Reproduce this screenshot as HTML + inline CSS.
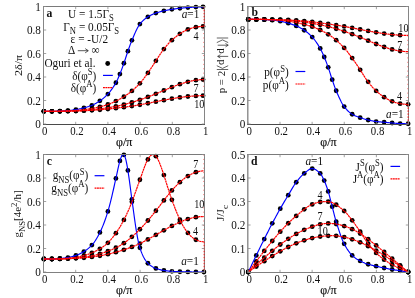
<!DOCTYPE html>
<html><head><meta charset="utf-8"><title>figure</title>
<style>
html,body{margin:0;padding:0;background:#fff;}
body{width:415px;height:298px;overflow:hidden;}
svg{display:block;font-family:"Liberation Serif",serif;will-change:transform;}
text{fill:#111;}
</style></head><body>
<svg width="415" height="298" viewBox="0 0 415 298">
<rect width="415" height="298" fill="#fff"/>
<g fill="#000">
<circle cx="43.90" cy="111.31" r="2.4"/>
<circle cx="51.90" cy="111.31" r="2.4"/>
<circle cx="59.90" cy="111.08" r="2.4"/>
<circle cx="67.90" cy="110.61" r="2.4"/>
<circle cx="75.90" cy="109.61" r="2.4"/>
<circle cx="83.90" cy="107.90" r="2.4"/>
<circle cx="91.90" cy="105.32" r="2.4"/>
<circle cx="99.90" cy="100.85" r="2.4"/>
<circle cx="107.90" cy="94.04" r="2.4"/>
<circle cx="115.90" cy="82.76" r="2.4"/>
<circle cx="119.90" cy="74.06" r="2.4"/>
<circle cx="123.90" cy="63.25" r="2.4"/>
<circle cx="127.90" cy="51.15" r="2.4"/>
<circle cx="131.90" cy="40.34" r="2.4"/>
<circle cx="139.90" cy="24.12" r="2.4"/>
<circle cx="147.90" cy="16.84" r="2.4"/>
<circle cx="155.90" cy="13.08" r="2.4"/>
<circle cx="163.90" cy="10.85" r="2.4"/>
<circle cx="171.90" cy="9.32" r="2.4"/>
<circle cx="179.90" cy="8.26" r="2.4"/>
<circle cx="187.90" cy="7.56" r="2.4"/>
<circle cx="195.90" cy="7.09" r="2.4"/>
<circle cx="203.02" cy="6.85" r="2.4"/>
<circle cx="43.90" cy="111.31" r="2.4"/>
<circle cx="51.90" cy="111.31" r="2.4"/>
<circle cx="59.90" cy="111.20" r="2.4"/>
<circle cx="67.90" cy="110.93" r="2.4"/>
<circle cx="75.90" cy="110.48" r="2.4"/>
<circle cx="83.90" cy="109.65" r="2.4"/>
<circle cx="91.90" cy="108.43" r="2.4"/>
<circle cx="99.90" cy="106.79" r="2.4"/>
<circle cx="107.90" cy="104.48" r="2.4"/>
<circle cx="115.90" cy="101.09" r="2.4"/>
<circle cx="123.90" cy="96.74" r="2.4"/>
<circle cx="131.90" cy="90.97" r="2.4"/>
<circle cx="139.90" cy="83.28" r="2.4"/>
<circle cx="147.90" cy="72.93" r="2.4"/>
<circle cx="155.90" cy="60.82" r="2.4"/>
<circle cx="163.90" cy="49.09" r="2.4"/>
<circle cx="171.90" cy="40.18" r="2.4"/>
<circle cx="179.90" cy="33.81" r="2.4"/>
<circle cx="187.90" cy="29.47" r="2.4"/>
<circle cx="195.90" cy="27.13" r="2.4"/>
<circle cx="203.02" cy="26.41" r="2.4"/>
<circle cx="43.90" cy="111.31" r="2.4"/>
<circle cx="51.90" cy="111.31" r="2.4"/>
<circle cx="59.90" cy="111.28" r="2.4"/>
<circle cx="67.90" cy="111.08" r="2.4"/>
<circle cx="75.90" cy="110.82" r="2.4"/>
<circle cx="83.90" cy="110.41" r="2.4"/>
<circle cx="91.90" cy="109.75" r="2.4"/>
<circle cx="99.90" cy="108.87" r="2.4"/>
<circle cx="107.90" cy="107.73" r="2.4"/>
<circle cx="115.90" cy="106.36" r="2.4"/>
<circle cx="123.90" cy="104.62" r="2.4"/>
<circle cx="131.90" cy="102.35" r="2.4"/>
<circle cx="139.90" cy="99.79" r="2.4"/>
<circle cx="147.90" cy="96.94" r="2.4"/>
<circle cx="155.90" cy="93.83" r="2.4"/>
<circle cx="163.90" cy="90.50" r="2.4"/>
<circle cx="171.90" cy="87.18" r="2.4"/>
<circle cx="179.90" cy="84.20" r="2.4"/>
<circle cx="187.90" cy="81.81" r="2.4"/>
<circle cx="195.90" cy="80.16" r="2.4"/>
<circle cx="203.02" cy="79.58" r="2.4"/>
<circle cx="43.90" cy="111.31" r="2.4"/>
<circle cx="51.90" cy="111.31" r="2.4"/>
<circle cx="59.90" cy="111.30" r="2.4"/>
<circle cx="67.90" cy="111.17" r="2.4"/>
<circle cx="75.90" cy="110.98" r="2.4"/>
<circle cx="83.90" cy="110.71" r="2.4"/>
<circle cx="91.90" cy="110.32" r="2.4"/>
<circle cx="99.90" cy="109.75" r="2.4"/>
<circle cx="107.90" cy="109.04" r="2.4"/>
<circle cx="115.90" cy="108.16" r="2.4"/>
<circle cx="123.90" cy="107.18" r="2.4"/>
<circle cx="131.90" cy="106.05" r="2.4"/>
<circle cx="139.90" cy="104.76" r="2.4"/>
<circle cx="147.90" cy="103.24" r="2.4"/>
<circle cx="155.90" cy="101.66" r="2.4"/>
<circle cx="163.90" cy="100.13" r="2.4"/>
<circle cx="171.90" cy="98.71" r="2.4"/>
<circle cx="179.90" cy="97.47" r="2.4"/>
<circle cx="187.90" cy="96.50" r="2.4"/>
<circle cx="195.90" cy="95.88" r="2.4"/>
<circle cx="203.02" cy="95.67" r="2.4"/>
</g>
<polyline points="43.90,111.31 44.63,111.31 45.36,111.31 46.09,111.31 46.82,111.31 47.55,111.31 48.28,111.31 49.01,111.31 49.74,111.31 50.48,111.31 51.21,111.31 51.94,111.31 52.67,111.31 53.40,111.30 54.13,111.28 54.86,111.26 55.59,111.24 56.32,111.22 57.05,111.19 57.78,111.16 58.51,111.13 59.24,111.10 59.97,111.07 60.70,111.04 61.43,111.01 62.16,110.97 62.90,110.94 63.63,110.90 64.36,110.85 65.09,110.81 65.82,110.76 66.55,110.71 67.28,110.65 68.01,110.60 68.74,110.53 69.47,110.46 70.20,110.39 70.93,110.30 71.66,110.21 72.39,110.12 73.12,110.02 73.85,109.92 74.58,109.81 75.32,109.70 76.05,109.58 76.78,109.46 77.51,109.33 78.24,109.19 78.97,109.05 79.70,108.90 80.43,108.74 81.16,108.57 81.89,108.40 82.62,108.22 83.35,108.04 84.08,107.86 84.81,107.66 85.54,107.46 86.27,107.26 87.01,107.04 87.74,106.81 88.47,106.58 89.20,106.33 89.93,106.08 90.66,105.81 91.39,105.52 92.12,105.23 92.85,104.91 93.58,104.57 94.31,104.21 95.04,103.82 95.77,103.42 96.50,103.00 97.23,102.57 97.96,102.12 98.69,101.65 99.43,101.17 100.16,100.68 100.89,100.17 101.62,99.64 102.35,99.09 103.08,98.51 103.81,97.91 104.54,97.28 105.27,96.63 106.00,95.95 106.73,95.24 107.46,94.50 108.19,93.72 108.92,92.90 109.65,92.04 110.38,91.13 111.11,90.17 111.85,89.16 112.58,88.11 113.31,87.02 114.04,85.88 114.77,84.69 115.50,83.45 116.23,82.17 116.96,80.74 117.69,79.20 118.42,77.56 119.15,75.85 119.88,74.11 120.61,72.29 121.34,70.39 122.07,68.40 122.80,66.37 123.53,64.29 124.27,62.19 125.00,60.00 125.73,57.74 126.46,55.47 127.19,53.24 127.92,51.10 128.65,49.01 129.38,46.94 130.11,44.92 130.84,42.97 131.57,41.13 132.30,39.39 133.03,37.67 133.76,35.95 134.49,34.26 135.22,32.61 135.95,31.02 136.69,29.50 137.42,28.08 138.15,26.76 138.88,25.56 139.61,24.51 140.34,23.58 141.07,22.72 141.80,21.91 142.53,21.15 143.26,20.44 143.99,19.76 144.72,19.14 145.45,18.55 146.18,18.00 146.91,17.48 147.64,17.00 148.37,16.55 149.11,16.12 149.84,15.72 150.57,15.34 151.30,14.98 152.03,14.63 152.76,14.31 153.49,14.00 154.22,13.70 154.95,13.42 155.68,13.16 156.41,12.90 157.14,12.66 157.87,12.43 158.60,12.21 159.33,12.00 160.06,11.80 160.79,11.60 161.53,11.41 162.26,11.23 162.99,11.06 163.72,10.89 164.45,10.72 165.18,10.57 165.91,10.41 166.64,10.26 167.37,10.12 168.10,9.98 168.83,9.84 169.56,9.71 170.29,9.58 171.02,9.46 171.75,9.34 172.48,9.23 173.22,9.12 173.95,9.01 174.68,8.91 175.41,8.81 176.14,8.71 176.87,8.62 177.60,8.52 178.33,8.44 179.06,8.35 179.79,8.27 180.52,8.20 181.25,8.12 181.98,8.05 182.71,7.98 183.44,7.92 184.17,7.85 184.90,7.79 185.64,7.73 186.37,7.67 187.10,7.62 187.83,7.56 188.56,7.51 189.29,7.46 190.02,7.41 190.75,7.36 191.48,7.32 192.21,7.27 192.94,7.23 193.67,7.19 194.40,7.15 195.13,7.12 195.86,7.09 196.59,7.06 197.32,7.03 198.06,7.01 198.79,6.98 199.52,6.96 200.25,6.94 200.98,6.91 201.71,6.90 202.44,6.88 203.17,6.86 203.90,6.85" fill="none" stroke="#0000ff" stroke-width="1.15" stroke-linejoin="round"/>
<polyline points="43.90,111.31 44.63,111.31 45.36,111.31 46.09,111.31 46.82,111.31 47.55,111.31 48.28,111.31 49.01,111.31 49.74,111.31 50.48,111.31 51.21,111.31 51.94,111.31 52.67,111.31 53.40,111.31 54.13,111.31 54.86,111.31 55.59,111.30 56.32,111.29 57.05,111.28 57.78,111.26 58.51,111.24 59.24,111.22 59.97,111.20 60.70,111.18 61.43,111.16 62.16,111.13 62.90,111.11 63.63,111.09 64.36,111.06 65.09,111.04 65.82,111.01 66.55,110.98 67.28,110.96 68.01,110.92 68.74,110.89 69.47,110.86 70.20,110.82 70.93,110.79 71.66,110.75 72.39,110.71 73.12,110.66 73.85,110.62 74.58,110.57 75.32,110.52 76.05,110.46 76.78,110.40 77.51,110.34 78.24,110.27 78.97,110.20 79.70,110.13 80.43,110.05 81.16,109.97 81.89,109.89 82.62,109.81 83.35,109.72 84.08,109.63 84.81,109.54 85.54,109.45 86.27,109.35 87.01,109.24 87.74,109.13 88.47,109.02 89.20,108.90 89.93,108.78 90.66,108.65 91.39,108.52 92.12,108.39 92.85,108.26 93.58,108.12 94.31,107.98 95.04,107.84 95.77,107.69 96.50,107.54 97.23,107.39 97.96,107.23 98.69,107.07 99.43,106.90 100.16,106.72 100.89,106.55 101.62,106.36 102.35,106.17 103.08,105.98 103.81,105.77 104.54,105.56 105.27,105.35 106.00,105.12 106.73,104.88 107.46,104.63 108.19,104.37 108.92,104.10 109.65,103.82 110.38,103.53 111.11,103.23 111.85,102.92 112.58,102.61 113.31,102.28 114.04,101.96 114.77,101.62 115.50,101.28 116.23,100.93 116.96,100.58 117.69,100.22 118.42,99.85 119.15,99.47 119.88,99.08 120.61,98.68 121.34,98.27 122.07,97.84 122.80,97.41 123.53,96.97 124.27,96.52 125.00,96.05 125.73,95.57 126.46,95.08 127.19,94.58 127.92,94.07 128.65,93.54 129.38,92.99 130.11,92.43 130.84,91.84 131.57,91.24 132.30,90.62 133.03,89.99 133.76,89.34 134.49,88.67 135.22,87.99 135.95,87.29 136.69,86.58 137.42,85.85 138.15,85.11 138.88,84.35 139.61,83.59 140.34,82.81 141.07,82.00 141.80,81.14 142.53,80.24 143.26,79.30 143.99,78.34 144.72,77.35 145.45,76.35 146.18,75.33 146.91,74.32 147.64,73.30 148.37,72.25 149.11,71.18 149.84,70.09 150.57,68.98 151.30,67.87 152.03,66.76 152.76,65.64 153.49,64.52 154.22,63.41 154.95,62.30 155.68,61.17 156.41,60.02 157.14,58.87 157.87,57.73 158.60,56.59 159.33,55.47 160.06,54.37 160.79,53.30 161.53,52.26 162.26,51.26 162.99,50.29 163.72,49.33 164.45,48.39 165.18,47.46 165.91,46.56 166.64,45.68 167.37,44.82 168.10,44.00 168.83,43.20 169.56,42.43 170.29,41.69 171.02,40.98 171.75,40.31 172.48,39.66 173.22,39.02 173.95,38.39 174.68,37.77 175.41,37.17 176.14,36.58 176.87,36.01 177.60,35.45 178.33,34.92 179.06,34.39 179.79,33.89 180.52,33.40 181.25,32.93 181.98,32.48 182.71,32.05 183.44,31.63 184.17,31.23 184.90,30.85 185.64,30.49 186.37,30.14 187.10,29.81 187.83,29.50 188.56,29.21 189.29,28.93 190.02,28.67 190.75,28.43 191.48,28.20 192.21,27.98 192.94,27.78 193.67,27.60 194.40,27.43 195.13,27.27 195.86,27.13 196.59,27.00 197.32,26.89 198.06,26.79 198.79,26.70 199.52,26.62 200.25,26.55 200.98,26.50 201.71,26.46 202.44,26.43 203.17,26.41 203.90,26.41" fill="none" stroke="#ff0000" stroke-width="1.2" stroke-dasharray="2.3 0.45"/>
<polyline points="43.90,111.31 44.63,111.31 45.36,111.31 46.09,111.31 46.82,111.31 47.55,111.31 48.28,111.31 49.01,111.31 49.74,111.31 50.48,111.31 51.21,111.31 51.94,111.31 52.67,111.31 53.40,111.31 54.13,111.31 54.86,111.31 55.59,111.31 56.32,111.31 57.05,111.31 57.78,111.30 58.51,111.29 59.24,111.29 59.97,111.27 60.70,111.26 61.43,111.25 62.16,111.23 62.90,111.21 63.63,111.20 64.36,111.18 65.09,111.16 65.82,111.14 66.55,111.12 67.28,111.10 68.01,111.08 68.74,111.06 69.47,111.04 70.20,111.02 70.93,111.00 71.66,110.98 72.39,110.95 73.12,110.93 73.85,110.90 74.58,110.87 75.32,110.85 76.05,110.82 76.78,110.79 77.51,110.75 78.24,110.72 78.97,110.69 79.70,110.65 80.43,110.62 81.16,110.58 81.89,110.54 82.62,110.49 83.35,110.45 84.08,110.40 84.81,110.35 85.54,110.29 86.27,110.24 87.01,110.18 87.74,110.12 88.47,110.06 89.20,110.00 89.93,109.93 90.66,109.87 91.39,109.80 92.12,109.73 92.85,109.66 93.58,109.59 94.31,109.52 95.04,109.44 95.77,109.36 96.50,109.28 97.23,109.20 97.96,109.11 98.69,109.02 99.43,108.93 100.16,108.83 100.89,108.74 101.62,108.64 102.35,108.54 103.08,108.44 103.81,108.33 104.54,108.23 105.27,108.12 106.00,108.01 106.73,107.90 107.46,107.79 108.19,107.68 108.92,107.57 109.65,107.45 110.38,107.33 111.11,107.21 111.85,107.09 112.58,106.96 113.31,106.83 114.04,106.70 114.77,106.57 115.50,106.43 116.23,106.29 116.96,106.15 117.69,106.01 118.42,105.86 119.15,105.71 119.88,105.55 120.61,105.39 121.34,105.23 122.07,105.06 122.80,104.89 123.53,104.71 124.27,104.53 125.00,104.34 125.73,104.14 126.46,103.94 127.19,103.74 127.92,103.54 128.65,103.33 129.38,103.11 130.11,102.90 130.84,102.68 131.57,102.45 132.30,102.23 133.03,102.00 133.76,101.77 134.49,101.54 135.22,101.31 135.95,101.08 136.69,100.85 137.42,100.61 138.15,100.37 138.88,100.13 139.61,99.89 140.34,99.64 141.07,99.39 141.80,99.14 142.53,98.88 143.26,98.63 143.99,98.37 144.72,98.10 145.45,97.84 146.18,97.57 146.91,97.30 147.64,97.03 148.37,96.76 149.11,96.48 149.84,96.20 150.57,95.92 151.30,95.64 152.03,95.36 152.76,95.07 153.49,94.78 154.22,94.50 154.95,94.21 155.68,93.91 156.41,93.62 157.14,93.32 157.87,93.03 158.60,92.72 159.33,92.42 160.06,92.12 160.79,91.81 161.53,91.50 162.26,91.20 162.99,90.89 163.72,90.58 164.45,90.27 165.18,89.96 165.91,89.65 166.64,89.35 167.37,89.04 168.10,88.73 168.83,88.43 169.56,88.13 170.29,87.83 171.02,87.53 171.75,87.24 172.48,86.95 173.22,86.66 173.95,86.37 174.68,86.09 175.41,85.81 176.14,85.54 176.87,85.27 177.60,85.00 178.33,84.74 179.06,84.49 179.79,84.24 180.52,83.99 181.25,83.75 181.98,83.51 182.71,83.29 183.44,83.06 184.17,82.85 184.90,82.63 185.64,82.43 186.37,82.22 187.10,82.03 187.83,81.83 188.56,81.65 189.29,81.46 190.02,81.29 190.75,81.12 191.48,80.96 192.21,80.81 192.94,80.66 193.67,80.53 194.40,80.40 195.13,80.28 195.86,80.17 196.59,80.07 197.32,79.98 198.06,79.89 198.79,79.82 199.52,79.75 200.25,79.70 200.98,79.66 201.71,79.62 202.44,79.60 203.17,79.58 203.90,79.58" fill="none" stroke="#ff0000" stroke-width="1.2" stroke-dasharray="2.3 0.45"/>
<polyline points="43.90,111.31 44.63,111.31 45.36,111.31 46.09,111.31 46.82,111.31 47.55,111.31 48.28,111.31 49.01,111.31 49.74,111.31 50.48,111.31 51.21,111.31 51.94,111.31 52.67,111.31 53.40,111.31 54.13,111.31 54.86,111.31 55.59,111.31 56.32,111.31 57.05,111.31 57.78,111.31 58.51,111.31 59.24,111.31 59.97,111.30 60.70,111.30 61.43,111.29 62.16,111.28 62.90,111.27 63.63,111.25 64.36,111.24 65.09,111.23 65.82,111.21 66.55,111.20 67.28,111.18 68.01,111.16 68.74,111.15 69.47,111.13 70.20,111.11 70.93,111.10 71.66,111.08 72.39,111.07 73.12,111.05 73.85,111.03 74.58,111.01 75.32,110.99 76.05,110.97 76.78,110.95 77.51,110.93 78.24,110.91 78.97,110.89 79.70,110.86 80.43,110.84 81.16,110.81 81.89,110.79 82.62,110.76 83.35,110.73 84.08,110.70 84.81,110.68 85.54,110.65 86.27,110.61 87.01,110.58 87.74,110.55 88.47,110.51 89.20,110.47 89.93,110.43 90.66,110.39 91.39,110.35 92.12,110.30 92.85,110.26 93.58,110.21 94.31,110.16 95.04,110.11 95.77,110.06 96.50,110.01 97.23,109.95 97.96,109.90 98.69,109.84 99.43,109.79 100.16,109.73 100.89,109.67 101.62,109.61 102.35,109.55 103.08,109.49 103.81,109.43 104.54,109.36 105.27,109.30 106.00,109.23 106.73,109.16 107.46,109.08 108.19,109.01 108.92,108.94 109.65,108.86 110.38,108.78 111.11,108.70 111.85,108.62 112.58,108.54 113.31,108.46 114.04,108.38 114.77,108.29 115.50,108.21 116.23,108.12 116.96,108.04 117.69,107.95 118.42,107.86 119.15,107.77 119.88,107.68 120.61,107.59 121.34,107.50 122.07,107.41 122.80,107.32 123.53,107.22 124.27,107.13 125.00,107.03 125.73,106.93 126.46,106.83 127.19,106.73 127.92,106.63 128.65,106.53 129.38,106.42 130.11,106.32 130.84,106.21 131.57,106.10 132.30,105.99 133.03,105.88 133.76,105.77 134.49,105.65 135.22,105.54 135.95,105.42 136.69,105.31 137.42,105.18 138.15,105.06 138.88,104.94 139.61,104.81 140.34,104.68 141.07,104.55 141.80,104.41 142.53,104.28 143.26,104.14 143.99,104.00 144.72,103.86 145.45,103.72 146.18,103.58 146.91,103.44 147.64,103.29 148.37,103.15 149.11,103.00 149.84,102.86 150.57,102.71 151.30,102.57 152.03,102.42 152.76,102.28 153.49,102.13 154.22,101.99 154.95,101.84 155.68,101.70 156.41,101.56 157.14,101.41 157.87,101.27 158.60,101.13 159.33,100.99 160.06,100.85 160.79,100.71 161.53,100.57 162.26,100.44 162.99,100.30 163.72,100.16 164.45,100.03 165.18,99.89 165.91,99.76 166.64,99.63 167.37,99.50 168.10,99.37 168.83,99.24 169.56,99.11 170.29,98.98 171.02,98.86 171.75,98.73 172.48,98.61 173.22,98.49 173.95,98.37 174.68,98.25 175.41,98.14 176.14,98.02 176.87,97.91 177.60,97.80 178.33,97.69 179.06,97.58 179.79,97.48 180.52,97.38 181.25,97.28 181.98,97.18 182.71,97.09 183.44,97.00 184.17,96.91 184.90,96.82 185.64,96.74 186.37,96.66 187.10,96.58 187.83,96.50 188.56,96.43 189.29,96.36 190.02,96.30 190.75,96.23 191.48,96.17 192.21,96.12 192.94,96.06 193.67,96.01 194.40,95.96 195.13,95.92 195.86,95.88 196.59,95.84 197.32,95.81 198.06,95.78 198.79,95.75 199.52,95.73 200.25,95.71 200.98,95.70 201.71,95.68 202.44,95.67 203.17,95.67 203.90,95.67" fill="none" stroke="#ff0000" stroke-width="1.2" stroke-dasharray="2.3 0.45"/>
<line x1="203.65" y1="95.67" x2="203.65" y2="26.41" stroke="#ff0000" stroke-width="0.9" stroke-dasharray="1 3.4" opacity="0.55"/>
<path d="M43.5,6.0V125.0" stroke="#858585" stroke-width="1" fill="none"/>
<path d="M204.5,6.0V125.0" stroke="#858585" stroke-width="1" fill="none"/>
<path d="M43.0,6.5H205.0" stroke="#7a7a7a" stroke-width="1" fill="none"/>
<path d="M43.0,124.5H205.0" stroke="#4a4a4a" stroke-width="1" fill="none"/>
<line x1="204.10" y1="26.41" x2="204.10" y2="6.85" stroke="#ff0000" stroke-width="1.0" stroke-dasharray="1.6 1.4" opacity="0.9"/>
<path d="M43.50,124.0v-2.2M43.50,6.5v2.7M43.5,124.00h2.7M204.5,124.00h-2.7M75.70,124.0v-2.2M75.70,6.5v2.7M43.5,100.50h2.7M204.5,100.50h-2.7M107.90,124.0v-2.2M107.90,6.5v2.7M43.5,77.00h2.7M204.5,77.00h-2.7M140.10,124.0v-2.2M140.10,6.5v2.7M43.5,53.50h2.7M204.5,53.50h-2.7M172.30,124.0v-2.2M172.30,6.5v2.7M43.5,30.00h2.7M204.5,30.00h-2.7M204.50,124.0v-2.2M204.50,6.5v2.7M43.5,6.50h2.7M204.5,6.50h-2.7" stroke="#8c8c8c" stroke-width="0.8" fill="none"/>
<g font-size="12.7125" fill="#1a1a1a">
<text transform="translate(44.70,135.40) scale(0.8489,1)" text-anchor="middle">0</text>
<text transform="translate(40.90,128.35) scale(0.8800,1)" text-anchor="end">0</text>
<text transform="translate(76.90,135.40) scale(0.8489,1)" text-anchor="middle">0.2</text>
<text transform="translate(40.90,104.85) scale(0.8800,1)" text-anchor="end">0.2</text>
<text transform="translate(109.10,135.40) scale(0.8489,1)" text-anchor="middle">0.4</text>
<text transform="translate(40.90,81.35) scale(0.8800,1)" text-anchor="end">0.4</text>
<text transform="translate(141.30,135.40) scale(0.8489,1)" text-anchor="middle">0.6</text>
<text transform="translate(40.90,57.85) scale(0.8800,1)" text-anchor="end">0.6</text>
<text transform="translate(173.50,135.40) scale(0.8489,1)" text-anchor="middle">0.8</text>
<text transform="translate(40.90,34.35) scale(0.8800,1)" text-anchor="end">0.8</text>
<text transform="translate(205.70,135.40) scale(0.8489,1)" text-anchor="middle">1</text>
<text transform="translate(40.90,10.85) scale(0.8800,1)" text-anchor="end">1</text>
</g>
<text transform="translate(124.20,146.20) scale(0.8889,1)" text-anchor="middle" font-size="13.50" stroke="#111" stroke-width="0.2">&#966;/&#960;</text>
<g fill="#000">
<circle cx="248.30" cy="19.42" r="2.4"/>
<circle cx="256.29" cy="19.42" r="2.4"/>
<circle cx="264.28" cy="19.66" r="2.4"/>
<circle cx="272.27" cy="20.13" r="2.4"/>
<circle cx="280.26" cy="21.19" r="2.4"/>
<circle cx="288.25" cy="23.19" r="2.4"/>
<circle cx="296.24" cy="25.89" r="2.4"/>
<circle cx="304.23" cy="30.23" r="2.4"/>
<circle cx="312.22" cy="37.05" r="2.4"/>
<circle cx="320.21" cy="48.45" r="2.4"/>
<circle cx="324.21" cy="57.02" r="2.4"/>
<circle cx="328.20" cy="67.37" r="2.4"/>
<circle cx="332.20" cy="79.70" r="2.4"/>
<circle cx="336.19" cy="90.75" r="2.4"/>
<circle cx="344.18" cy="106.61" r="2.4"/>
<circle cx="352.17" cy="114.25" r="2.4"/>
<circle cx="360.16" cy="117.66" r="2.4"/>
<circle cx="368.15" cy="120.00" r="2.4"/>
<circle cx="376.14" cy="121.53" r="2.4"/>
<circle cx="384.13" cy="122.24" r="2.4"/>
<circle cx="392.12" cy="123.00" r="2.4"/>
<circle cx="400.11" cy="123.53" r="2.4"/>
<circle cx="408.10" cy="123.77" r="2.4"/>
<circle cx="248.30" cy="19.42" r="2.4"/>
<circle cx="256.29" cy="19.42" r="2.4"/>
<circle cx="264.28" cy="19.53" r="2.4"/>
<circle cx="272.27" cy="19.80" r="2.4"/>
<circle cx="280.26" cy="20.26" r="2.4"/>
<circle cx="288.25" cy="21.13" r="2.4"/>
<circle cx="296.24" cy="22.58" r="2.4"/>
<circle cx="304.23" cy="24.38" r="2.4"/>
<circle cx="312.22" cy="26.72" r="2.4"/>
<circle cx="320.21" cy="30.00" r="2.4"/>
<circle cx="328.20" cy="34.33" r="2.4"/>
<circle cx="336.19" cy="40.16" r="2.4"/>
<circle cx="344.18" cy="47.93" r="2.4"/>
<circle cx="352.17" cy="58.12" r="2.4"/>
<circle cx="360.16" cy="69.79" r="2.4"/>
<circle cx="368.15" cy="81.81" r="2.4"/>
<circle cx="376.14" cy="90.91" r="2.4"/>
<circle cx="384.13" cy="97.15" r="2.4"/>
<circle cx="392.12" cy="101.35" r="2.4"/>
<circle cx="400.11" cy="103.63" r="2.4"/>
<circle cx="408.10" cy="104.33" r="2.4"/>
<circle cx="248.30" cy="19.42" r="2.4"/>
<circle cx="256.29" cy="19.42" r="2.4"/>
<circle cx="264.28" cy="19.46" r="2.4"/>
<circle cx="272.27" cy="19.65" r="2.4"/>
<circle cx="280.26" cy="19.91" r="2.4"/>
<circle cx="288.25" cy="20.33" r="2.4"/>
<circle cx="296.24" cy="21.03" r="2.4"/>
<circle cx="304.23" cy="22.06" r="2.4"/>
<circle cx="312.22" cy="23.38" r="2.4"/>
<circle cx="320.21" cy="24.83" r="2.4"/>
<circle cx="328.20" cy="26.58" r="2.4"/>
<circle cx="336.19" cy="28.77" r="2.4"/>
<circle cx="344.18" cy="31.29" r="2.4"/>
<circle cx="352.17" cy="34.14" r="2.4"/>
<circle cx="360.16" cy="37.26" r="2.4"/>
<circle cx="368.15" cy="40.63" r="2.4"/>
<circle cx="376.14" cy="44.00" r="2.4"/>
<circle cx="384.13" cy="47.00" r="2.4"/>
<circle cx="392.12" cy="49.39" r="2.4"/>
<circle cx="400.11" cy="51.03" r="2.4"/>
<circle cx="248.30" cy="19.42" r="2.4"/>
<circle cx="256.29" cy="19.42" r="2.4"/>
<circle cx="264.28" cy="19.43" r="2.4"/>
<circle cx="272.27" cy="19.57" r="2.4"/>
<circle cx="280.26" cy="19.76" r="2.4"/>
<circle cx="288.25" cy="20.02" r="2.4"/>
<circle cx="296.24" cy="20.43" r="2.4"/>
<circle cx="304.23" cy="21.03" r="2.4"/>
<circle cx="312.22" cy="21.85" r="2.4"/>
<circle cx="320.21" cy="22.89" r="2.4"/>
<circle cx="328.20" cy="23.97" r="2.4"/>
<circle cx="336.19" cy="25.14" r="2.4"/>
<circle cx="344.18" cy="26.45" r="2.4"/>
<circle cx="352.17" cy="27.92" r="2.4"/>
<circle cx="360.16" cy="29.45" r="2.4"/>
<circle cx="368.15" cy="30.95" r="2.4"/>
<circle cx="376.14" cy="32.36" r="2.4"/>
<circle cx="384.13" cy="33.61" r="2.4"/>
<circle cx="392.12" cy="34.58" r="2.4"/>
<circle cx="400.11" cy="35.20" r="2.4"/>
</g>
<polyline points="248.30,19.42 249.03,19.42 249.76,19.42 250.49,19.42 251.22,19.42 251.95,19.42 252.68,19.42 253.41,19.42 254.14,19.42 254.87,19.42 255.60,19.42 256.33,19.43 257.06,19.43 257.79,19.44 258.52,19.45 259.25,19.47 259.97,19.49 260.70,19.52 261.43,19.55 262.16,19.57 262.89,19.60 263.62,19.63 264.35,19.66 265.08,19.69 265.81,19.73 266.54,19.76 267.27,19.80 268.00,19.84 268.73,19.88 269.46,19.93 270.19,19.97 270.92,20.03 271.65,20.08 272.38,20.14 273.11,20.20 273.84,20.28 274.57,20.36 275.30,20.44 276.03,20.54 276.76,20.64 277.49,20.74 278.22,20.85 278.95,20.97 279.68,21.09 280.41,21.21 281.14,21.35 281.87,21.50 282.59,21.66 283.32,21.84 284.05,22.02 284.78,22.21 285.51,22.41 286.24,22.61 286.97,22.82 287.70,23.03 288.43,23.24 289.16,23.45 289.89,23.67 290.62,23.89 291.35,24.12 292.08,24.35 292.81,24.60 293.54,24.85 294.27,25.11 295.00,25.39 295.73,25.68 296.46,25.98 297.19,26.30 297.92,26.63 298.65,26.99 299.38,27.36 300.11,27.74 300.84,28.15 301.57,28.57 302.30,29.00 303.03,29.46 303.76,29.92 304.49,30.41 305.22,30.91 305.94,31.44 306.67,31.99 307.40,32.56 308.13,33.16 308.86,33.79 309.59,34.45 310.32,35.13 311.05,35.84 311.78,36.59 312.51,37.37 313.24,38.19 313.97,39.07 314.70,39.99 315.43,40.97 316.16,41.99 316.89,43.05 317.62,44.16 318.35,45.32 319.08,46.51 319.81,47.75 320.54,49.04 321.27,50.45 322.00,51.98 322.73,53.60 323.46,55.28 324.19,56.98 324.92,58.73 325.65,60.54 326.38,62.41 327.11,64.35 327.84,66.34 328.56,68.41 329.29,70.63 330.02,72.93 330.75,75.26 331.48,77.56 332.21,79.76 332.94,81.89 333.67,84.02 334.40,86.10 335.13,88.09 335.86,89.96 336.59,91.69 337.32,93.40 338.05,95.08 338.78,96.72 339.51,98.32 340.24,99.85 340.97,101.32 341.70,102.70 342.43,103.99 343.16,105.16 343.89,106.22 344.62,107.17 345.35,108.06 346.08,108.92 346.81,109.73 347.54,110.50 348.27,111.22 349.00,111.89 349.73,112.52 350.46,113.09 351.18,113.62 351.91,114.09 352.64,114.52 353.37,114.91 354.10,115.28 354.83,115.62 355.56,115.94 356.29,116.24 357.02,116.53 357.75,116.80 358.48,117.07 359.21,117.32 359.94,117.58 360.67,117.83 361.40,118.08 362.13,118.32 362.86,118.55 363.59,118.78 364.32,118.99 365.05,119.21 365.78,119.41 366.51,119.60 367.24,119.79 367.97,119.96 368.70,120.13 369.43,120.30 370.16,120.46 370.89,120.62 371.62,120.77 372.35,120.92 373.08,121.06 373.81,121.19 374.53,121.31 375.26,121.42 375.99,121.51 376.72,121.60 377.45,121.68 378.18,121.75 378.91,121.81 379.64,121.87 380.37,121.93 381.10,121.99 381.83,122.05 382.56,122.10 383.29,122.16 384.02,122.23 384.75,122.30 385.48,122.37 386.21,122.44 386.94,122.51 387.67,122.59 388.40,122.66 389.13,122.73 389.86,122.80 390.59,122.87 391.32,122.94 392.05,123.00 392.78,123.05 393.51,123.11 394.24,123.17 394.97,123.22 395.70,123.27 396.43,123.32 397.15,123.37 397.88,123.42 398.61,123.46 399.34,123.50 400.07,123.53 400.80,123.56 401.53,123.59 402.26,123.61 402.99,123.64 403.72,123.66 404.45,123.69 405.18,123.71 405.91,123.73 406.64,123.74 407.37,123.76 408.10,123.77" fill="none" stroke="#0000ff" stroke-width="1.15" stroke-linejoin="round"/>
<polyline points="248.30,19.42 249.03,19.42 249.76,19.42 250.49,19.42 251.22,19.42 251.95,19.42 252.68,19.42 253.41,19.42 254.14,19.42 254.87,19.42 255.60,19.42 256.33,19.42 257.06,19.42 257.79,19.42 258.52,19.43 259.25,19.43 259.97,19.44 260.70,19.45 261.43,19.46 262.16,19.47 262.89,19.49 263.62,19.51 264.35,19.53 265.08,19.56 265.81,19.58 266.54,19.60 267.27,19.63 268.00,19.65 268.73,19.67 269.46,19.70 270.19,19.72 270.92,19.75 271.65,19.78 272.38,19.81 273.11,19.84 273.84,19.88 274.57,19.91 275.30,19.95 276.03,19.99 276.76,20.03 277.49,20.07 278.22,20.12 278.95,20.16 279.68,20.22 280.41,20.27 281.14,20.34 281.87,20.40 282.59,20.47 283.32,20.55 284.05,20.62 284.78,20.71 285.51,20.79 286.24,20.88 286.97,20.97 287.70,21.06 288.43,21.16 289.16,21.26 289.89,21.37 290.62,21.48 291.35,21.61 292.08,21.74 292.81,21.88 293.54,22.02 294.27,22.16 295.00,22.31 295.73,22.47 296.46,22.62 297.19,22.78 297.92,22.94 298.65,23.10 299.38,23.26 300.11,23.42 300.84,23.58 301.57,23.75 302.30,23.92 303.03,24.09 303.76,24.27 304.49,24.45 305.22,24.63 305.94,24.82 306.67,25.02 307.40,25.22 308.13,25.42 308.86,25.64 309.59,25.86 310.32,26.09 311.05,26.32 311.78,26.57 312.51,26.83 313.24,27.09 313.97,27.36 314.70,27.64 315.43,27.93 316.16,28.23 316.89,28.53 317.62,28.84 318.35,29.16 319.08,29.49 319.81,29.82 320.54,30.16 321.27,30.50 322.00,30.86 322.73,31.23 323.46,31.61 324.19,32.00 324.92,32.40 325.65,32.81 326.38,33.23 327.11,33.66 327.84,34.10 328.56,34.56 329.29,35.03 330.02,35.51 330.75,36.00 331.48,36.50 332.21,37.02 332.94,37.55 333.67,38.10 334.40,38.68 335.13,39.27 335.86,39.88 336.59,40.50 337.32,41.15 338.05,41.81 338.78,42.49 339.51,43.18 340.24,43.89 340.97,44.61 341.70,45.34 342.43,46.09 343.16,46.85 343.89,47.62 344.62,48.40 345.35,49.21 346.08,50.06 346.81,50.96 347.54,51.88 348.27,52.84 349.00,53.81 349.73,54.79 350.46,55.78 351.18,56.78 351.91,57.77 352.64,58.77 353.37,59.79 354.10,60.82 354.83,61.86 355.56,62.92 356.29,63.98 357.02,65.05 357.75,66.12 358.48,67.21 359.21,68.31 359.94,69.44 360.67,70.60 361.40,71.77 362.13,72.94 362.86,74.11 363.59,75.27 364.32,76.40 365.05,77.50 365.78,78.57 366.51,79.59 367.24,80.58 367.97,81.57 368.70,82.53 369.43,83.48 370.16,84.41 370.89,85.32 371.62,86.19 372.35,87.04 373.08,87.86 373.81,88.64 374.53,89.39 375.26,90.10 375.99,90.78 376.72,91.43 377.45,92.06 378.18,92.69 378.91,93.29 379.64,93.88 380.37,94.46 381.10,95.02 381.83,95.56 382.56,96.08 383.29,96.59 384.02,97.08 384.75,97.55 385.48,98.01 386.21,98.44 386.94,98.86 387.67,99.26 388.40,99.65 389.13,100.02 389.86,100.37 390.59,100.70 391.32,101.02 392.05,101.32 392.78,101.60 393.51,101.87 394.24,102.12 394.97,102.36 395.70,102.58 396.43,102.79 397.15,102.98 397.88,103.16 398.61,103.33 399.34,103.48 400.07,103.62 400.80,103.74 401.53,103.86 402.26,103.96 402.99,104.05 403.72,104.12 404.45,104.19 405.18,104.24 405.91,104.28 406.64,104.31 407.37,104.33 408.10,104.33" fill="none" stroke="#ff0000" stroke-width="1.2" stroke-dasharray="2.3 0.45"/>
<polyline points="248.30,19.42 249.03,19.42 249.76,19.42 250.49,19.42 251.22,19.42 251.95,19.42 252.68,19.42 253.41,19.42 254.14,19.42 254.87,19.42 255.60,19.42 256.33,19.42 257.06,19.42 257.79,19.42 258.52,19.42 259.25,19.42 259.97,19.42 260.70,19.43 261.43,19.43 262.16,19.43 262.89,19.44 263.62,19.45 264.35,19.46 265.08,19.47 265.81,19.49 266.54,19.50 267.27,19.52 268.00,19.54 268.73,19.56 269.46,19.58 270.19,19.60 270.92,19.62 271.65,19.64 272.38,19.65 273.11,19.67 273.84,19.69 274.57,19.71 275.30,19.74 276.03,19.76 276.76,19.78 277.49,19.81 278.22,19.83 278.95,19.86 279.68,19.89 280.41,19.92 281.14,19.95 281.87,19.98 282.59,20.01 283.32,20.05 284.05,20.08 284.78,20.12 285.51,20.16 286.24,20.20 286.97,20.24 287.70,20.29 288.43,20.34 289.16,20.40 289.89,20.45 290.62,20.51 291.35,20.57 292.08,20.63 292.81,20.70 293.54,20.77 294.27,20.83 295.00,20.91 295.73,20.98 296.46,21.05 297.19,21.13 297.92,21.21 298.65,21.29 299.38,21.37 300.11,21.47 300.84,21.56 301.57,21.66 302.30,21.77 303.03,21.87 303.76,21.98 304.49,22.10 305.22,22.21 305.94,22.33 306.67,22.45 307.40,22.57 308.13,22.69 308.86,22.81 309.59,22.94 310.32,23.06 311.05,23.18 311.78,23.31 312.51,23.43 313.24,23.55 313.97,23.68 314.70,23.81 315.43,23.94 316.16,24.07 316.89,24.20 317.62,24.33 318.35,24.47 319.08,24.61 319.81,24.75 320.54,24.89 321.27,25.04 322.00,25.19 322.73,25.34 323.46,25.49 324.19,25.65 324.92,25.81 325.65,25.98 326.38,26.14 327.11,26.32 327.84,26.49 328.56,26.68 329.29,26.86 330.02,27.05 330.75,27.24 331.48,27.44 332.21,27.64 332.94,27.84 333.67,28.04 334.40,28.25 335.13,28.46 335.86,28.68 336.59,28.89 337.32,29.11 338.05,29.33 338.78,29.56 339.51,29.78 340.24,30.01 340.97,30.24 341.70,30.47 342.43,30.71 343.16,30.95 343.89,31.19 344.62,31.43 345.35,31.68 346.08,31.93 346.81,32.19 347.54,32.45 348.27,32.71 349.00,32.97 349.73,33.23 350.46,33.50 351.18,33.77 351.91,34.04 352.64,34.32 353.37,34.60 354.10,34.88 354.83,35.16 355.56,35.44 356.29,35.73 357.02,36.01 357.75,36.30 358.48,36.59 359.21,36.88 359.94,37.17 360.67,37.47 361.40,37.77 362.13,38.07 362.86,38.37 363.59,38.68 364.32,38.99 365.05,39.30 365.78,39.61 366.51,39.92 367.24,40.24 367.97,40.55 368.70,40.86 369.43,41.18 370.16,41.49 370.89,41.80 371.62,42.11 372.35,42.42 373.08,42.73 373.81,43.04 374.53,43.34 375.26,43.64 375.99,43.94 376.72,44.23 377.45,44.53 378.18,44.81 378.91,45.10 379.64,45.38 380.37,45.66 381.10,45.93 381.83,46.19 382.56,46.46 383.29,46.71 384.02,46.97 384.75,47.21 385.48,47.45 386.21,47.69 386.94,47.92 387.67,48.14 388.40,48.36 389.13,48.57 389.86,48.78 390.59,48.98 391.32,49.18 392.05,49.37 392.78,49.56 393.51,49.74 394.24,49.91 394.97,50.08 395.70,50.24 396.43,50.39 397.15,50.53 397.88,50.67 398.61,50.80 399.34,50.91 400.07,51.02 400.80,51.12 401.53,51.22 402.26,51.30 402.99,51.37 403.72,51.44 404.45,51.49 405.18,51.53 405.91,51.57 406.64,51.59 407.37,51.61 408.10,51.61" fill="none" stroke="#ff0000" stroke-width="1.2" stroke-dasharray="2.3 0.45"/>
<polyline points="248.30,19.42 249.03,19.42 249.76,19.42 250.49,19.42 251.22,19.42 251.95,19.42 252.68,19.42 253.41,19.42 254.14,19.42 254.87,19.42 255.60,19.42 256.33,19.42 257.06,19.42 257.79,19.42 258.52,19.42 259.25,19.42 259.97,19.42 260.70,19.42 261.43,19.42 262.16,19.42 262.89,19.43 263.62,19.43 264.35,19.43 265.08,19.44 265.81,19.45 266.54,19.46 267.27,19.47 268.00,19.48 268.73,19.49 269.46,19.51 270.19,19.52 270.92,19.54 271.65,19.55 272.38,19.57 273.11,19.59 273.84,19.60 274.57,19.62 275.30,19.64 276.03,19.65 276.76,19.67 277.49,19.69 278.22,19.70 278.95,19.72 279.68,19.74 280.41,19.76 281.14,19.78 281.87,19.80 282.59,19.82 283.32,19.85 284.05,19.87 284.78,19.89 285.51,19.92 286.24,19.95 286.97,19.97 287.70,20.00 288.43,20.03 289.16,20.06 289.89,20.09 290.62,20.12 291.35,20.15 292.08,20.19 292.81,20.23 293.54,20.26 294.27,20.31 295.00,20.35 295.73,20.39 296.46,20.44 297.19,20.49 297.92,20.54 298.65,20.59 299.38,20.64 300.11,20.70 300.84,20.75 301.57,20.81 302.30,20.87 303.03,20.93 303.76,20.99 304.49,21.05 305.22,21.12 305.94,21.18 306.67,21.25 307.40,21.32 308.13,21.39 308.86,21.46 309.59,21.54 310.32,21.63 311.05,21.71 311.78,21.80 312.51,21.88 313.24,21.97 313.97,22.07 314.70,22.16 315.43,22.25 316.16,22.35 316.89,22.45 317.62,22.54 318.35,22.64 319.08,22.74 319.81,22.84 320.54,22.94 321.27,23.03 322.00,23.13 322.73,23.23 323.46,23.33 324.19,23.43 324.92,23.52 325.65,23.62 326.38,23.72 327.11,23.82 327.84,23.92 328.56,24.02 329.29,24.13 330.02,24.23 330.75,24.33 331.48,24.44 332.21,24.54 332.94,24.65 333.67,24.76 334.40,24.87 335.13,24.98 335.86,25.09 336.59,25.20 337.32,25.31 338.05,25.43 338.78,25.54 339.51,25.66 340.24,25.78 340.97,25.90 341.70,26.02 342.43,26.15 343.16,26.27 343.89,26.40 344.62,26.53 345.35,26.65 346.08,26.79 346.81,26.92 347.54,27.05 348.27,27.18 349.00,27.32 349.73,27.46 350.46,27.59 351.18,27.73 351.91,27.87 352.64,28.01 353.37,28.15 354.10,28.29 354.83,28.43 355.56,28.57 356.29,28.71 357.02,28.85 357.75,28.99 358.48,29.13 359.21,29.27 359.94,29.41 360.67,29.55 361.40,29.69 362.13,29.83 362.86,29.96 363.59,30.10 364.32,30.24 365.05,30.37 365.78,30.51 366.51,30.65 367.24,30.78 367.97,30.92 368.70,31.05 369.43,31.18 370.16,31.32 370.89,31.45 371.62,31.58 372.35,31.71 373.08,31.84 373.81,31.96 374.53,32.09 375.26,32.22 375.99,32.34 376.72,32.46 377.45,32.58 378.18,32.70 378.91,32.82 379.64,32.94 380.37,33.05 381.10,33.16 381.83,33.27 382.56,33.38 383.29,33.49 384.02,33.59 384.75,33.69 385.48,33.79 386.21,33.89 386.94,33.99 387.67,34.08 388.40,34.17 389.13,34.25 389.86,34.34 390.59,34.42 391.32,34.50 392.05,34.57 392.78,34.65 393.51,34.72 394.24,34.78 394.97,34.85 395.70,34.91 396.43,34.96 397.15,35.02 397.88,35.07 398.61,35.11 399.34,35.16 400.07,35.20 400.80,35.24 401.53,35.27 402.26,35.30 402.99,35.33 403.72,35.35 404.45,35.37 405.18,35.39 405.91,35.40 406.64,35.41 407.37,35.41 408.10,35.41" fill="none" stroke="#ff0000" stroke-width="1.2" stroke-dasharray="2.3 0.45"/>
<line x1="407.65" y1="35.41" x2="407.65" y2="104.33" stroke="#ff0000" stroke-width="0.9" stroke-dasharray="1 3.4" opacity="0.55"/>
<path d="M247.85,6.0V125.0" stroke="#5c5c5c" stroke-width="1" fill="none"/>
<path d="M408.5,6.0V125.0" stroke="#858585" stroke-width="1" fill="none"/>
<path d="M247.4,6.5H409.0" stroke="#7a7a7a" stroke-width="1" fill="none"/>
<path d="M247.4,124.5H409.0" stroke="#4a4a4a" stroke-width="1" fill="none"/>
<line x1="408.10" y1="104.33" x2="408.10" y2="123.77" stroke="#ff0000" stroke-width="1.0" stroke-dasharray="1.6 1.4" opacity="0.9"/>
<path d="M247.90,124.0v-2.2M247.90,6.5v2.7M247.9,124.00h2.7M408.5,124.00h-2.7M280.02,124.0v-2.2M280.02,6.5v2.7M247.9,100.50h2.7M408.5,100.50h-2.7M312.14,124.0v-2.2M312.14,6.5v2.7M247.9,77.00h2.7M408.5,77.00h-2.7M344.26,124.0v-2.2M344.26,6.5v2.7M247.9,53.50h2.7M408.5,53.50h-2.7M376.38,124.0v-2.2M376.38,6.5v2.7M247.9,30.00h2.7M408.5,30.00h-2.7M408.50,124.0v-2.2M408.50,6.5v2.7M247.9,6.50h2.7M408.5,6.50h-2.7" stroke="#8c8c8c" stroke-width="0.8" fill="none"/>
<g font-size="12.7125" fill="#1a1a1a">
<text transform="translate(249.10,135.40) scale(0.8489,1)" text-anchor="middle">0</text>
<text transform="translate(245.30,128.35) scale(0.8800,1)" text-anchor="end">0</text>
<text transform="translate(281.22,135.40) scale(0.8489,1)" text-anchor="middle">0.2</text>
<text transform="translate(245.30,104.85) scale(0.8800,1)" text-anchor="end">0.2</text>
<text transform="translate(313.34,135.40) scale(0.8489,1)" text-anchor="middle">0.4</text>
<text transform="translate(245.30,81.35) scale(0.8800,1)" text-anchor="end">0.4</text>
<text transform="translate(345.46,135.40) scale(0.8489,1)" text-anchor="middle">0.6</text>
<text transform="translate(245.30,57.85) scale(0.8800,1)" text-anchor="end">0.6</text>
<text transform="translate(377.58,135.40) scale(0.8489,1)" text-anchor="middle">0.8</text>
<text transform="translate(245.30,34.35) scale(0.8800,1)" text-anchor="end">0.8</text>
<text transform="translate(409.70,135.40) scale(0.8489,1)" text-anchor="middle">1</text>
<text transform="translate(245.30,10.85) scale(0.8800,1)" text-anchor="end">1</text>
</g>
<text transform="translate(328.40,146.20) scale(0.8889,1)" text-anchor="middle" font-size="13.50" stroke="#111" stroke-width="0.2">&#966;/&#960;</text>
<g fill="#000">
<circle cx="43.90" cy="258.98" r="2.4"/>
<circle cx="51.90" cy="258.98" r="2.4"/>
<circle cx="59.90" cy="258.52" r="2.4"/>
<circle cx="67.90" cy="257.56" r="2.4"/>
<circle cx="75.90" cy="255.44" r="2.4"/>
<circle cx="83.90" cy="251.55" r="2.4"/>
<circle cx="91.90" cy="245.04" r="2.4"/>
<circle cx="99.90" cy="232.45" r="2.4"/>
<circle cx="107.90" cy="211.40" r="2.4"/>
<circle cx="115.90" cy="178.42" r="2.4"/>
<circle cx="119.90" cy="160.90" r="2.4"/>
<circle cx="123.90" cy="154.83" r="2.4"/>
<circle cx="127.90" cy="170.42" r="2.4"/>
<circle cx="131.90" cy="199.36" r="2.4"/>
<circle cx="139.90" cy="247.78" r="2.4"/>
<circle cx="147.90" cy="263.25" r="2.4"/>
<circle cx="155.90" cy="268.40" r="2.4"/>
<circle cx="163.90" cy="270.42" r="2.4"/>
<circle cx="171.90" cy="271.33" r="2.4"/>
<circle cx="179.90" cy="271.74" r="2.4"/>
<circle cx="187.90" cy="271.91" r="2.4"/>
<circle cx="195.90" cy="271.97" r="2.4"/>
<circle cx="203.90" cy="271.99" r="2.4"/>
<circle cx="43.90" cy="258.98" r="2.4"/>
<circle cx="51.90" cy="258.98" r="2.4"/>
<circle cx="59.90" cy="258.77" r="2.4"/>
<circle cx="67.90" cy="258.22" r="2.4"/>
<circle cx="75.90" cy="257.29" r="2.4"/>
<circle cx="83.90" cy="255.54" r="2.4"/>
<circle cx="91.90" cy="252.79" r="2.4"/>
<circle cx="99.90" cy="248.82" r="2.4"/>
<circle cx="107.90" cy="242.79" r="2.4"/>
<circle cx="115.90" cy="233.15" r="2.4"/>
<circle cx="123.90" cy="219.89" r="2.4"/>
<circle cx="131.90" cy="201.83" r="2.4"/>
<circle cx="139.90" cy="179.75" r="2.4"/>
<circle cx="147.90" cy="159.39" r="2.4"/>
<circle cx="155.90" cy="156.14" r="2.4"/>
<circle cx="163.90" cy="175.10" r="2.4"/>
<circle cx="171.90" cy="199.85" r="2.4"/>
<circle cx="179.90" cy="219.71" r="2.4"/>
<circle cx="187.90" cy="232.97" r="2.4"/>
<circle cx="195.90" cy="239.74" r="2.4"/>
<circle cx="43.90" cy="258.98" r="2.4"/>
<circle cx="51.90" cy="258.98" r="2.4"/>
<circle cx="59.90" cy="258.92" r="2.4"/>
<circle cx="67.90" cy="258.53" r="2.4"/>
<circle cx="75.90" cy="258.01" r="2.4"/>
<circle cx="83.90" cy="257.16" r="2.4"/>
<circle cx="91.90" cy="255.75" r="2.4"/>
<circle cx="99.90" cy="253.79" r="2.4"/>
<circle cx="107.90" cy="251.13" r="2.4"/>
<circle cx="115.90" cy="247.74" r="2.4"/>
<circle cx="123.90" cy="243.17" r="2.4"/>
<circle cx="131.90" cy="236.84" r="2.4"/>
<circle cx="139.90" cy="229.27" r="2.4"/>
<circle cx="147.90" cy="220.49" r="2.4"/>
<circle cx="155.90" cy="210.74" r="2.4"/>
<circle cx="163.90" cy="200.40" r="2.4"/>
<circle cx="171.90" cy="190.47" r="2.4"/>
<circle cx="179.90" cy="182.16" r="2.4"/>
<circle cx="187.90" cy="176.08" r="2.4"/>
<circle cx="195.90" cy="172.21" r="2.4"/>
<circle cx="43.90" cy="258.98" r="2.4"/>
<circle cx="51.90" cy="258.98" r="2.4"/>
<circle cx="59.90" cy="258.97" r="2.4"/>
<circle cx="67.90" cy="258.70" r="2.4"/>
<circle cx="75.90" cy="258.32" r="2.4"/>
<circle cx="83.90" cy="257.78" r="2.4"/>
<circle cx="91.90" cy="256.96" r="2.4"/>
<circle cx="99.90" cy="255.75" r="2.4"/>
<circle cx="107.90" cy="254.18" r="2.4"/>
<circle cx="115.90" cy="252.16" r="2.4"/>
<circle cx="123.90" cy="249.79" r="2.4"/>
<circle cx="131.90" cy="246.96" r="2.4"/>
<circle cx="139.90" cy="243.55" r="2.4"/>
<circle cx="147.90" cy="239.38" r="2.4"/>
<circle cx="155.90" cy="234.82" r="2.4"/>
<circle cx="163.90" cy="230.29" r="2.4"/>
<circle cx="171.90" cy="225.97" r="2.4"/>
<circle cx="179.90" cy="222.14" r="2.4"/>
<circle cx="187.90" cy="219.12" r="2.4"/>
<circle cx="195.90" cy="217.19" r="2.4"/>
</g>
<polyline points="43.90,258.98 44.63,258.98 45.36,258.98 46.09,258.98 46.82,258.98 47.55,258.98 48.28,258.98 49.01,258.98 49.74,258.98 50.48,258.98 51.21,258.98 51.94,258.98 52.67,258.98 53.40,258.96 54.13,258.93 54.86,258.89 55.59,258.85 56.32,258.80 57.05,258.75 57.78,258.69 58.51,258.63 59.24,258.57 59.97,258.51 60.70,258.45 61.43,258.39 62.16,258.32 62.90,258.24 63.63,258.16 64.36,258.07 65.09,257.98 65.82,257.88 66.55,257.77 67.28,257.66 68.01,257.54 68.74,257.41 69.47,257.27 70.20,257.11 70.93,256.93 71.66,256.74 72.39,256.54 73.12,256.33 73.85,256.11 74.58,255.88 75.32,255.64 76.05,255.39 76.78,255.12 77.51,254.84 78.24,254.53 78.97,254.20 79.70,253.86 80.43,253.50 81.16,253.12 81.89,252.72 82.62,252.31 83.35,251.88 84.08,251.43 84.81,250.97 85.54,250.49 86.27,249.98 87.01,249.45 87.74,248.89 88.47,248.30 89.20,247.68 89.93,247.02 90.66,246.32 91.39,245.58 92.12,244.80 92.85,243.95 93.58,243.04 94.31,242.05 95.04,241.00 95.77,239.88 96.50,238.70 97.23,237.46 97.96,236.16 98.69,234.80 99.43,233.40 100.16,231.94 100.89,230.41 101.62,228.81 102.35,227.13 103.08,225.37 103.81,223.52 104.54,221.57 105.27,219.54 106.00,217.41 106.73,215.18 107.46,212.85 108.19,210.42 108.92,207.85 109.65,205.15 110.38,202.33 111.11,199.38 111.85,196.34 112.58,193.21 113.31,190.00 114.04,186.75 114.77,183.48 115.50,180.21 116.23,176.94 116.96,173.54 117.69,170.10 118.42,166.78 119.15,163.70 119.88,160.97 120.61,158.62 121.34,156.70 122.07,155.33 122.80,154.60 123.53,154.58 124.27,155.28 125.00,156.80 125.73,159.17 126.46,162.35 127.19,166.20 127.92,170.54 128.65,175.29 129.38,180.48 130.11,185.93 130.84,191.49 131.57,196.96 132.30,202.27 133.03,207.63 133.76,213.02 134.49,218.32 135.22,223.46 135.95,228.34 136.69,232.89 137.42,237.05 138.15,240.77 138.88,244.03 139.61,246.81 140.34,249.14 141.07,251.24 141.80,253.15 142.53,254.87 143.26,256.43 143.99,257.83 144.72,259.09 145.45,260.23 146.18,261.25 146.91,262.16 147.64,262.98 148.37,263.72 149.11,264.39 149.84,265.00 150.57,265.56 151.30,266.07 152.03,266.53 152.76,266.96 153.49,267.34 154.22,267.70 154.95,268.02 155.68,268.32 156.41,268.59 157.14,268.84 157.87,269.07 158.60,269.28 159.33,269.48 160.06,269.66 160.79,269.83 161.53,269.98 162.26,270.13 162.99,270.26 163.72,270.39 164.45,270.51 165.18,270.62 165.91,270.72 166.64,270.82 167.37,270.91 168.10,270.99 168.83,271.07 169.56,271.14 170.29,271.20 171.02,271.27 171.75,271.32 172.48,271.38 173.22,271.42 173.95,271.47 174.68,271.51 175.41,271.55 176.14,271.59 176.87,271.62 177.60,271.66 178.33,271.69 179.06,271.71 179.79,271.74 180.52,271.76 181.25,271.78 181.98,271.80 182.71,271.82 183.44,271.83 184.17,271.85 184.90,271.86 185.64,271.87 186.37,271.88 187.10,271.90 187.83,271.91 188.56,271.91 189.29,271.92 190.02,271.93 190.75,271.94 191.48,271.94 192.21,271.95 192.94,271.96 193.67,271.96 194.40,271.96 195.13,271.97 195.86,271.97 196.59,271.97 197.32,271.98 198.06,271.98 198.79,271.98 199.52,271.98 200.25,271.98 200.98,271.99 201.71,271.99 202.44,271.99 203.17,271.99 203.90,271.99" fill="none" stroke="#0000ff" stroke-width="1.15" stroke-linejoin="round"/>
<polyline points="43.90,258.98 44.63,258.98 45.36,258.98 46.09,258.98 46.82,258.98 47.55,258.98 48.28,258.98 49.01,258.98 49.74,258.98 50.48,258.98 51.21,258.98 51.94,258.98 52.67,258.98 53.40,258.98 54.13,258.98 54.86,258.98 55.59,258.96 56.32,258.94 57.05,258.92 57.78,258.89 58.51,258.85 59.24,258.81 59.97,258.77 60.70,258.73 61.43,258.68 62.16,258.63 62.90,258.58 63.63,258.54 64.36,258.49 65.09,258.44 65.82,258.39 66.55,258.34 67.28,258.28 68.01,258.22 68.74,258.15 69.47,258.08 70.20,258.01 70.93,257.93 71.66,257.85 72.39,257.77 73.12,257.68 73.85,257.59 74.58,257.49 75.32,257.39 76.05,257.27 76.78,257.14 77.51,257.01 78.24,256.87 78.97,256.72 79.70,256.57 80.43,256.40 81.16,256.23 81.89,256.06 82.62,255.87 83.35,255.69 84.08,255.50 84.81,255.30 85.54,255.09 86.27,254.87 87.01,254.63 87.74,254.39 88.47,254.13 89.20,253.87 89.93,253.59 90.66,253.30 91.39,253.00 92.12,252.70 92.85,252.38 93.58,252.06 94.31,251.73 95.04,251.39 95.77,251.04 96.50,250.68 97.23,250.30 97.96,249.92 98.69,249.51 99.43,249.10 100.16,248.67 100.89,248.22 101.62,247.75 102.35,247.26 103.08,246.76 103.81,246.23 104.54,245.69 105.27,245.12 106.00,244.52 106.73,243.89 107.46,243.21 108.19,242.51 108.92,241.76 109.65,240.99 110.38,240.18 111.11,239.34 111.85,238.47 112.58,237.57 113.31,236.65 114.04,235.69 114.77,234.71 115.50,233.71 116.23,232.69 116.96,231.64 117.69,230.56 118.42,229.44 119.15,228.29 119.88,227.10 120.61,225.88 121.34,224.62 122.07,223.32 122.80,221.98 123.53,220.60 124.27,219.18 125.00,217.72 125.73,216.23 126.46,214.69 127.19,213.11 127.92,211.50 128.65,209.84 129.38,208.13 130.11,206.36 130.84,204.54 131.57,202.68 132.30,200.77 133.03,198.83 133.76,196.86 134.49,194.85 135.22,192.83 135.95,190.79 136.69,188.74 137.42,186.68 138.15,184.63 138.88,182.58 139.61,180.55 140.34,178.55 141.07,176.53 141.80,174.46 142.53,172.38 143.26,170.32 143.99,168.31 144.72,166.37 145.45,164.54 146.18,162.84 146.91,161.27 147.64,159.85 148.37,158.56 149.11,157.42 149.84,156.45 150.57,155.67 151.30,155.08 152.03,154.69 152.76,154.51 153.49,154.54 154.22,154.78 154.95,155.23 155.68,155.89 156.41,156.78 157.14,157.88 157.87,159.19 158.60,160.69 159.33,162.36 160.06,164.17 160.79,166.10 161.53,168.11 162.26,170.19 162.99,172.32 163.72,174.53 164.45,176.81 165.18,179.13 165.91,181.48 166.64,183.84 167.37,186.20 168.10,188.53 168.83,190.83 169.56,193.08 170.29,195.28 171.02,197.40 171.75,199.45 172.48,201.45 173.22,203.43 173.95,205.38 174.68,207.30 175.41,209.19 176.14,211.03 176.87,212.82 177.60,214.57 178.33,216.26 179.06,217.90 179.79,219.48 180.52,221.00 181.25,222.46 181.98,223.86 182.71,225.20 183.44,226.47 184.17,227.69 184.90,228.85 185.64,229.94 186.37,230.98 187.10,231.96 187.83,232.88 188.56,233.75 189.29,234.56 190.02,235.32 190.75,236.03 191.48,236.70 192.21,237.31 192.94,237.88 193.67,238.41 194.40,238.89 195.13,239.33 195.86,239.73 196.59,240.09 197.32,240.41 198.06,240.69 198.79,240.94 199.52,241.16 200.25,241.34 200.98,241.49 201.71,241.60 202.44,241.68 203.17,241.73 203.90,241.74" fill="none" stroke="#ff0000" stroke-width="1.2" stroke-dasharray="2.3 0.45"/>
<polyline points="43.90,258.98 44.63,258.98 45.36,258.98 46.09,258.98 46.82,258.98 47.55,258.98 48.28,258.98 49.01,258.98 49.74,258.98 50.48,258.98 51.21,258.98 51.94,258.98 52.67,258.98 53.40,258.98 54.13,258.98 54.86,258.98 55.59,258.98 56.32,258.98 57.05,258.98 57.78,258.97 58.51,258.95 59.24,258.94 59.97,258.91 60.70,258.89 61.43,258.86 62.16,258.83 62.90,258.79 63.63,258.76 64.36,258.72 65.09,258.68 65.82,258.64 66.55,258.61 67.28,258.57 68.01,258.53 68.74,258.49 69.47,258.45 70.20,258.41 70.93,258.36 71.66,258.32 72.39,258.27 73.12,258.22 73.85,258.17 74.58,258.11 75.32,258.05 76.05,257.99 76.78,257.93 77.51,257.87 78.24,257.80 78.97,257.73 79.70,257.66 80.43,257.58 81.16,257.51 81.89,257.42 82.62,257.33 83.35,257.24 84.08,257.13 84.81,257.03 85.54,256.91 86.27,256.80 87.01,256.68 87.74,256.55 88.47,256.42 89.20,256.28 89.93,256.15 90.66,256.00 91.39,255.86 92.12,255.71 92.85,255.56 93.58,255.40 94.31,255.24 95.04,255.08 95.77,254.90 96.50,254.72 97.23,254.53 97.96,254.34 98.69,254.13 99.43,253.93 100.16,253.71 100.89,253.49 101.62,253.27 102.35,253.04 103.08,252.80 103.81,252.56 104.54,252.31 105.27,252.06 106.00,251.81 106.73,251.55 107.46,251.29 108.19,251.02 108.92,250.74 109.65,250.46 110.38,250.17 111.11,249.87 111.85,249.57 112.58,249.26 113.31,248.94 114.04,248.61 114.77,248.28 115.50,247.93 116.23,247.58 116.96,247.21 117.69,246.84 118.42,246.45 119.15,246.06 119.88,245.66 120.61,245.24 121.34,244.81 122.07,244.37 122.80,243.90 123.53,243.42 124.27,242.92 125.00,242.41 125.73,241.88 126.46,241.33 127.19,240.77 127.92,240.20 128.65,239.61 129.38,239.01 130.11,238.39 130.84,237.77 131.57,237.13 132.30,236.49 133.03,235.83 133.76,235.17 134.49,234.50 135.22,233.82 135.95,233.13 136.69,232.44 137.42,231.73 138.15,231.02 138.88,230.30 139.61,229.56 140.34,228.82 141.07,228.06 141.80,227.29 142.53,226.51 143.26,225.73 143.99,224.93 144.72,224.12 145.45,223.30 146.18,222.47 146.91,221.63 147.64,220.79 148.37,219.93 149.11,219.07 149.84,218.20 150.57,217.32 151.30,216.44 152.03,215.55 152.76,214.65 153.49,213.75 154.22,212.84 154.95,211.93 155.68,211.02 156.41,210.10 157.14,209.17 157.87,208.23 158.60,207.29 159.33,206.34 160.06,205.39 160.79,204.44 161.53,203.49 162.26,202.54 162.99,201.58 163.72,200.64 164.45,199.69 165.18,198.75 165.91,197.81 166.64,196.88 167.37,195.96 168.10,195.05 168.83,194.15 169.56,193.25 170.29,192.37 171.02,191.50 171.75,190.64 172.48,189.80 173.22,188.97 173.95,188.16 174.68,187.36 175.41,186.58 176.14,185.81 176.87,185.07 177.60,184.34 178.33,183.63 179.06,182.94 179.79,182.26 180.52,181.61 181.25,180.98 181.98,180.36 182.71,179.77 183.44,179.20 184.17,178.64 184.90,178.11 185.64,177.59 186.37,177.08 187.10,176.60 187.83,176.12 188.56,175.67 189.29,175.23 190.02,174.82 190.75,174.42 191.48,174.04 192.21,173.69 192.94,173.35 193.67,173.04 194.40,172.75 195.13,172.47 195.86,172.23 196.59,172.00 197.32,171.79 198.06,171.61 198.79,171.44 199.52,171.30 200.25,171.18 200.98,171.09 201.71,171.01 202.44,170.96 203.17,170.92 203.90,170.91" fill="none" stroke="#ff0000" stroke-width="1.2" stroke-dasharray="2.3 0.45"/>
<polyline points="43.90,258.98 44.63,258.98 45.36,258.98 46.09,258.98 46.82,258.98 47.55,258.98 48.28,258.98 49.01,258.98 49.74,258.98 50.48,258.98 51.21,258.98 51.94,258.98 52.67,258.98 53.40,258.98 54.13,258.98 54.86,258.98 55.59,258.98 56.32,258.98 57.05,258.98 57.78,258.98 58.51,258.98 59.24,258.98 59.97,258.97 60.70,258.96 61.43,258.94 62.16,258.92 62.90,258.90 63.63,258.88 64.36,258.85 65.09,258.82 65.82,258.79 66.55,258.76 67.28,258.73 68.01,258.70 68.74,258.66 69.47,258.63 70.20,258.60 70.93,258.56 71.66,258.53 72.39,258.50 73.12,258.46 73.85,258.43 74.58,258.39 75.32,258.35 76.05,258.31 76.78,258.27 77.51,258.23 78.24,258.19 78.97,258.14 79.70,258.09 80.43,258.04 81.16,257.99 81.89,257.94 82.62,257.88 83.35,257.83 84.08,257.77 84.81,257.71 85.54,257.64 86.27,257.58 87.01,257.51 87.74,257.44 88.47,257.37 89.20,257.29 89.93,257.21 90.66,257.12 91.39,257.03 92.12,256.94 92.85,256.84 93.58,256.74 94.31,256.63 95.04,256.53 95.77,256.42 96.50,256.30 97.23,256.19 97.96,256.07 98.69,255.95 99.43,255.83 100.16,255.71 100.89,255.58 101.62,255.45 102.35,255.32 103.08,255.19 103.81,255.05 104.54,254.90 105.27,254.75 106.00,254.60 106.73,254.44 107.46,254.28 108.19,254.12 108.92,253.95 109.65,253.77 110.38,253.59 111.11,253.41 111.85,253.23 112.58,253.04 113.31,252.85 114.04,252.66 114.77,252.46 115.50,252.27 116.23,252.06 116.96,251.86 117.69,251.66 118.42,251.45 119.15,251.24 119.88,251.02 120.61,250.81 121.34,250.59 122.07,250.36 122.80,250.14 123.53,249.90 124.27,249.67 125.00,249.43 125.73,249.19 126.46,248.94 127.19,248.69 127.92,248.43 128.65,248.17 129.38,247.91 130.11,247.64 130.84,247.36 131.57,247.09 132.30,246.80 133.03,246.52 133.76,246.22 134.49,245.93 135.22,245.63 135.95,245.32 136.69,245.01 137.42,244.69 138.15,244.36 138.88,244.03 139.61,243.69 140.34,243.34 141.07,242.98 141.80,242.62 142.53,242.25 143.26,241.87 143.99,241.49 144.72,241.11 145.45,240.71 146.18,240.32 146.91,239.92 147.64,239.52 148.37,239.11 149.11,238.70 149.84,238.29 150.57,237.88 151.30,237.46 152.03,237.04 152.76,236.63 153.49,236.21 154.22,235.79 154.95,235.37 155.68,234.95 156.41,234.53 157.14,234.11 157.87,233.69 158.60,233.27 159.33,232.86 160.06,232.45 160.79,232.03 161.53,231.62 162.26,231.21 162.99,230.80 163.72,230.40 164.45,229.99 165.18,229.58 165.91,229.18 166.64,228.78 167.37,228.38 168.10,227.98 168.83,227.59 169.56,227.20 170.29,226.81 171.02,226.43 171.75,226.05 172.48,225.67 173.22,225.30 173.95,224.93 174.68,224.57 175.41,224.21 176.14,223.86 176.87,223.51 177.60,223.17 178.33,222.84 179.06,222.51 179.79,222.19 180.52,221.87 181.25,221.56 181.98,221.26 182.71,220.97 183.44,220.68 184.17,220.41 184.90,220.14 185.64,219.87 186.37,219.62 187.10,219.38 187.83,219.14 188.56,218.92 189.29,218.70 190.02,218.49 190.75,218.29 191.48,218.11 192.21,217.93 192.94,217.76 193.67,217.60 194.40,217.46 195.13,217.32 195.86,217.19 196.59,217.08 197.32,216.97 198.06,216.88 198.79,216.79 199.52,216.72 200.25,216.66 200.98,216.61 201.71,216.57 202.44,216.54 203.17,216.53 203.90,216.52" fill="none" stroke="#ff0000" stroke-width="1.2" stroke-dasharray="2.3 0.45"/>
<line x1="203.65" y1="154.50" x2="203.65" y2="241.74" stroke="#ff0000" stroke-width="0.9" stroke-dasharray="1 3.4" opacity="0.55"/>
<path d="M43.5,154.0V273.0" stroke="#858585" stroke-width="1" fill="none"/>
<path d="M204.5,154.0V273.0" stroke="#858585" stroke-width="1" fill="none"/>
<path d="M43.0,154.5H205.0" stroke="#7a7a7a" stroke-width="1" fill="none"/>
<path d="M43.0,272.5H205.0" stroke="#808080" stroke-width="1" fill="none"/>
<line x1="204.10" y1="241.74" x2="204.10" y2="271.99" stroke="#ff0000" stroke-width="1.0" stroke-dasharray="1.6 1.4" opacity="0.9"/>
<path d="M43.50,272.0v-2.2M43.50,154.5v2.7M43.5,272.00h2.7M204.5,272.00h-2.7M75.70,272.0v-2.2M75.70,154.5v2.7M43.5,248.50h2.7M204.5,248.50h-2.7M107.90,272.0v-2.2M107.90,154.5v2.7M43.5,225.00h2.7M204.5,225.00h-2.7M140.10,272.0v-2.2M140.10,154.5v2.7M43.5,201.50h2.7M204.5,201.50h-2.7M172.30,272.0v-2.2M172.30,154.5v2.7M43.5,178.00h2.7M204.5,178.00h-2.7M204.50,272.0v-2.2M204.50,154.5v2.7M43.5,154.50h2.7M204.5,154.50h-2.7" stroke="#8c8c8c" stroke-width="0.8" fill="none"/>
<g font-size="12.7125" fill="#1a1a1a">
<text transform="translate(44.70,283.40) scale(0.8489,1)" text-anchor="middle">0</text>
<text transform="translate(40.90,276.35) scale(0.8800,1)" text-anchor="end">0</text>
<text transform="translate(76.90,283.40) scale(0.8489,1)" text-anchor="middle">0.2</text>
<text transform="translate(40.90,252.85) scale(0.8800,1)" text-anchor="end">0.2</text>
<text transform="translate(109.10,283.40) scale(0.8489,1)" text-anchor="middle">0.4</text>
<text transform="translate(40.90,229.35) scale(0.8800,1)" text-anchor="end">0.4</text>
<text transform="translate(141.30,283.40) scale(0.8489,1)" text-anchor="middle">0.6</text>
<text transform="translate(40.90,205.85) scale(0.8800,1)" text-anchor="end">0.6</text>
<text transform="translate(173.50,283.40) scale(0.8489,1)" text-anchor="middle">0.8</text>
<text transform="translate(40.90,182.35) scale(0.8800,1)" text-anchor="end">0.8</text>
<text transform="translate(205.70,283.40) scale(0.8489,1)" text-anchor="middle">1</text>
<text transform="translate(40.90,158.85) scale(0.8800,1)" text-anchor="end">1</text>
</g>
<text transform="translate(124.20,294.20) scale(0.8889,1)" text-anchor="middle" font-size="13.50" stroke="#111" stroke-width="0.2">&#966;/&#960;</text>
<g fill="#000">
<circle cx="248.30" cy="272.00" r="2.4"/>
<circle cx="256.29" cy="255.39" r="2.4"/>
<circle cx="264.28" cy="239.10" r="2.4"/>
<circle cx="272.27" cy="223.36" r="2.4"/>
<circle cx="280.26" cy="208.67" r="2.4"/>
<circle cx="288.25" cy="195.16" r="2.4"/>
<circle cx="296.24" cy="182.23" r="2.4"/>
<circle cx="304.23" cy="173.42" r="2.4"/>
<circle cx="312.22" cy="168.60" r="2.4"/>
<circle cx="320.21" cy="173.42" r="2.4"/>
<circle cx="324.21" cy="180.58" r="2.4"/>
<circle cx="328.20" cy="191.39" r="2.4"/>
<circle cx="332.20" cy="206.67" r="2.4"/>
<circle cx="336.19" cy="221.71" r="2.4"/>
<circle cx="344.18" cy="243.80" r="2.4"/>
<circle cx="352.17" cy="255.39" r="2.4"/>
<circle cx="360.16" cy="260.95" r="2.4"/>
<circle cx="368.15" cy="264.25" r="2.4"/>
<circle cx="376.14" cy="266.20" r="2.4"/>
<circle cx="384.13" cy="268.00" r="2.4"/>
<circle cx="392.12" cy="269.49" r="2.4"/>
<circle cx="400.11" cy="270.75" r="2.4"/>
<circle cx="408.10" cy="272.00" r="2.4"/>
<circle cx="248.30" cy="272.00" r="2.4"/>
<circle cx="256.29" cy="261.36" r="2.4"/>
<circle cx="264.28" cy="250.97" r="2.4"/>
<circle cx="272.27" cy="240.99" r="2.4"/>
<circle cx="280.26" cy="231.66" r="2.4"/>
<circle cx="288.25" cy="223.25" r="2.4"/>
<circle cx="296.24" cy="215.92" r="2.4"/>
<circle cx="304.23" cy="209.29" r="2.4"/>
<circle cx="312.22" cy="204.41" r="2.4"/>
<circle cx="320.21" cy="202.01" r="2.4"/>
<circle cx="328.20" cy="201.64" r="2.4"/>
<circle cx="336.19" cy="204.74" r="2.4"/>
<circle cx="344.18" cy="211.01" r="2.4"/>
<circle cx="352.17" cy="220.33" r="2.4"/>
<circle cx="360.16" cy="231.72" r="2.4"/>
<circle cx="368.15" cy="243.57" r="2.4"/>
<circle cx="376.14" cy="252.93" r="2.4"/>
<circle cx="384.13" cy="259.67" r="2.4"/>
<circle cx="392.12" cy="264.71" r="2.4"/>
<circle cx="400.11" cy="268.62" r="2.4"/>
<circle cx="408.10" cy="272.00" r="2.4"/>
<circle cx="248.30" cy="272.00" r="2.4"/>
<circle cx="256.29" cy="264.72" r="2.4"/>
<circle cx="264.28" cy="257.64" r="2.4"/>
<circle cx="272.27" cy="250.86" r="2.4"/>
<circle cx="280.26" cy="244.51" r="2.4"/>
<circle cx="288.25" cy="238.81" r="2.4"/>
<circle cx="296.24" cy="233.89" r="2.4"/>
<circle cx="304.23" cy="229.87" r="2.4"/>
<circle cx="312.22" cy="226.71" r="2.4"/>
<circle cx="320.21" cy="224.28" r="2.4"/>
<circle cx="328.20" cy="223.43" r="2.4"/>
<circle cx="336.19" cy="224.04" r="2.4"/>
<circle cx="344.18" cy="226.07" r="2.4"/>
<circle cx="352.17" cy="229.13" r="2.4"/>
<circle cx="360.16" cy="233.57" r="2.4"/>
<circle cx="368.15" cy="239.20" r="2.4"/>
<circle cx="376.14" cy="245.45" r="2.4"/>
<circle cx="384.13" cy="251.96" r="2.4"/>
<circle cx="392.12" cy="258.61" r="2.4"/>
<circle cx="400.11" cy="265.32" r="2.4"/>
<circle cx="408.10" cy="272.00" r="2.4"/>
<circle cx="248.30" cy="272.00" r="2.4"/>
<circle cx="256.29" cy="266.50" r="2.4"/>
<circle cx="264.28" cy="261.15" r="2.4"/>
<circle cx="272.27" cy="256.04" r="2.4"/>
<circle cx="280.26" cy="251.28" r="2.4"/>
<circle cx="288.25" cy="246.98" r="2.4"/>
<circle cx="296.24" cy="243.29" r="2.4"/>
<circle cx="304.23" cy="240.29" r="2.4"/>
<circle cx="312.22" cy="238.04" r="2.4"/>
<circle cx="320.21" cy="236.58" r="2.4"/>
<circle cx="328.20" cy="235.80" r="2.4"/>
<circle cx="336.19" cy="235.86" r="2.4"/>
<circle cx="344.18" cy="237.10" r="2.4"/>
<circle cx="352.17" cy="239.28" r="2.4"/>
<circle cx="360.16" cy="242.35" r="2.4"/>
<circle cx="368.15" cy="246.18" r="2.4"/>
<circle cx="376.14" cy="250.57" r="2.4"/>
<circle cx="384.13" cy="255.48" r="2.4"/>
<circle cx="392.12" cy="260.78" r="2.4"/>
<circle cx="400.11" cy="266.33" r="2.4"/>
<circle cx="408.10" cy="272.00" r="2.4"/>
</g>
<polyline points="248.30,272.00 249.03,270.47 249.76,268.94 250.49,267.42 251.22,265.89 251.95,264.37 252.68,262.86 253.41,261.34 254.14,259.83 254.87,258.32 255.60,256.81 256.33,255.31 257.06,253.81 257.79,252.31 258.52,250.81 259.25,249.31 259.97,247.82 260.70,246.33 261.43,244.85 262.16,243.37 262.89,241.89 263.62,240.42 264.35,238.95 265.08,237.49 265.81,236.03 266.54,234.57 267.27,233.12 268.00,231.67 268.73,230.22 269.46,228.79 270.19,227.36 270.92,225.94 271.65,224.54 272.38,223.15 273.11,221.76 273.84,220.39 274.57,219.02 275.30,217.66 276.03,216.31 276.76,214.97 277.49,213.63 278.22,212.31 278.95,211.00 279.68,209.70 280.41,208.41 281.14,207.13 281.87,205.87 282.59,204.62 283.32,203.38 284.05,202.14 284.78,200.91 285.51,199.69 286.24,198.48 286.97,197.27 287.70,196.06 288.43,194.85 289.16,193.63 289.89,192.38 290.62,191.13 291.35,189.87 292.08,188.63 292.81,187.41 293.54,186.21 294.27,185.06 295.00,183.96 295.73,182.92 296.46,181.94 297.19,181.00 297.92,180.07 298.65,179.17 299.38,178.29 300.11,177.44 300.84,176.62 301.57,175.85 302.30,175.12 303.03,174.43 303.76,173.80 304.49,173.22 305.22,172.63 305.94,172.02 306.67,171.42 307.40,170.84 308.13,170.30 308.86,169.80 309.59,169.37 310.32,169.02 311.05,168.76 311.78,168.62 312.51,168.61 313.24,168.71 313.97,168.91 314.70,169.20 315.43,169.57 316.16,170.02 316.89,170.53 317.62,171.10 318.35,171.71 319.08,172.36 319.81,173.04 320.54,173.77 321.27,174.76 322.00,176.01 322.73,177.43 323.46,178.97 324.19,180.55 324.92,182.20 325.65,184.01 326.38,185.96 327.11,188.05 327.84,190.25 328.56,192.59 329.29,195.21 330.02,198.03 330.75,200.96 331.48,203.90 332.21,206.74 332.94,209.56 333.67,212.43 334.40,215.28 335.13,218.03 335.86,220.62 336.59,223.01 337.32,225.35 338.05,227.66 338.78,229.93 339.51,232.13 340.24,234.25 340.97,236.28 341.70,238.21 342.43,240.02 343.16,241.70 343.89,243.23 344.62,244.62 345.35,245.95 346.08,247.22 346.81,248.44 347.54,249.59 348.27,250.69 349.00,251.71 349.73,252.67 350.46,253.57 351.18,254.39 351.91,255.14 352.64,255.82 353.37,256.46 354.10,257.07 354.83,257.64 355.56,258.17 356.29,258.68 357.02,259.16 357.75,259.61 358.48,260.04 359.21,260.45 359.94,260.84 360.67,261.22 361.40,261.58 362.13,261.92 362.86,262.26 363.59,262.57 364.32,262.88 365.05,263.17 365.78,263.44 366.51,263.71 367.24,263.95 367.97,264.19 368.70,264.41 369.43,264.61 370.16,264.81 370.89,264.99 371.62,265.17 372.35,265.34 373.08,265.50 373.81,265.67 374.53,265.83 375.26,265.99 375.99,266.16 376.72,266.33 377.45,266.50 378.18,266.68 378.91,266.85 379.64,267.02 380.37,267.19 381.10,267.35 381.83,267.51 382.56,267.67 383.29,267.83 384.02,267.98 384.75,268.13 385.48,268.28 386.21,268.42 386.94,268.56 387.67,268.69 388.40,268.83 389.13,268.96 389.86,269.09 390.59,269.22 391.32,269.35 392.05,269.47 392.78,269.60 393.51,269.72 394.24,269.84 394.97,269.95 395.70,270.07 396.43,270.18 397.15,270.30 397.88,270.41 398.61,270.52 399.34,270.63 400.07,270.75 400.80,270.86 401.53,270.98 402.26,271.09 402.99,271.21 403.72,271.32 404.45,271.43 405.18,271.55 405.91,271.66 406.64,271.77 407.37,271.89 408.10,272.00" fill="none" stroke="#0000ff" stroke-width="1.15" stroke-linejoin="round"/>
<polyline points="248.30,272.00 249.03,271.02 249.76,270.04 250.49,269.06 251.22,268.09 251.95,267.12 252.68,266.14 253.41,265.17 254.14,264.21 254.87,263.24 255.60,262.28 256.33,261.31 257.06,260.35 257.79,259.40 258.52,258.44 259.25,257.49 259.97,256.54 260.70,255.59 261.43,254.64 262.16,253.69 262.89,252.75 263.62,251.81 264.35,250.88 265.08,249.95 265.81,249.02 266.54,248.10 267.27,247.18 268.00,246.27 268.73,245.36 269.46,244.45 270.19,243.55 270.92,242.65 271.65,241.75 272.38,240.86 273.11,239.97 273.84,239.09 274.57,238.22 275.30,237.35 276.03,236.49 276.76,235.63 277.49,234.79 278.22,233.96 278.95,233.13 279.68,232.31 280.41,231.50 281.14,230.69 281.87,229.89 282.59,229.10 283.32,228.32 284.05,227.54 284.78,226.78 285.51,226.02 286.24,225.27 286.97,224.53 287.70,223.79 288.43,223.07 289.16,222.36 289.89,221.66 290.62,220.96 291.35,220.28 292.08,219.60 292.81,218.94 293.54,218.28 294.27,217.63 295.00,216.99 295.73,216.36 296.46,215.73 297.19,215.11 297.92,214.50 298.65,213.89 299.38,213.29 300.11,212.68 300.84,212.07 301.57,211.46 302.30,210.85 303.03,210.25 303.76,209.66 304.49,209.09 305.22,208.53 305.94,207.99 306.67,207.47 307.40,206.98 308.13,206.51 308.86,206.08 309.59,205.68 310.32,205.31 311.05,204.96 311.78,204.61 312.51,204.28 313.24,203.97 313.97,203.68 314.70,203.40 315.43,203.14 316.16,202.91 316.89,202.69 317.62,202.50 318.35,202.33 319.08,202.18 319.81,202.07 320.54,201.97 321.27,201.90 322.00,201.82 322.73,201.75 323.46,201.68 324.19,201.62 324.92,201.58 325.65,201.55 326.38,201.54 327.11,201.56 327.84,201.61 328.56,201.68 329.29,201.79 330.02,201.94 330.75,202.12 331.48,202.35 332.21,202.62 332.94,202.94 333.67,203.29 334.40,203.67 335.13,204.09 335.86,204.53 336.59,205.01 337.32,205.50 338.05,206.02 338.78,206.57 339.51,207.13 340.24,207.70 340.97,208.29 341.70,208.89 342.43,209.51 343.16,210.13 343.89,210.76 344.62,211.40 345.35,212.07 346.08,212.81 346.81,213.62 347.54,214.47 348.27,215.35 349.00,216.26 349.73,217.19 350.46,218.13 351.18,219.06 351.91,220.00 352.64,220.96 353.37,221.94 354.10,222.94 354.83,223.95 355.56,224.98 356.29,226.02 357.02,227.07 357.75,228.13 358.48,229.19 359.21,230.27 359.94,231.38 360.67,232.51 361.40,233.65 362.13,234.79 362.86,235.93 363.59,237.06 364.32,238.17 365.05,239.26 365.78,240.31 366.51,241.34 367.24,242.33 367.97,243.32 368.70,244.30 369.43,245.26 370.16,246.20 370.89,247.12 371.62,248.01 372.35,248.88 373.08,249.72 373.81,250.53 374.53,251.31 375.26,252.07 375.99,252.79 376.72,253.48 377.45,254.17 378.18,254.83 378.91,255.48 379.64,256.12 380.37,256.74 381.10,257.34 381.83,257.92 382.56,258.50 383.29,259.05 384.02,259.59 384.75,260.12 385.48,260.63 386.21,261.13 386.94,261.61 387.67,262.09 388.40,262.55 389.13,262.99 389.86,263.43 390.59,263.86 391.32,264.27 392.05,264.68 392.78,265.07 393.51,265.46 394.24,265.83 394.97,266.20 395.70,266.56 396.43,266.92 397.15,267.27 397.88,267.61 398.61,267.95 399.34,268.28 400.07,268.60 400.80,268.93 401.53,269.24 402.26,269.56 402.99,269.87 403.72,270.18 404.45,270.49 405.18,270.79 405.91,271.09 406.64,271.40 407.37,271.70 408.10,272.00" fill="none" stroke="#ff0000" stroke-width="1.2" stroke-dasharray="2.3 0.45"/>
<polyline points="248.30,272.00 249.03,271.33 249.76,270.66 250.49,269.99 251.22,269.33 251.95,268.66 252.68,267.99 253.41,267.33 254.14,266.67 254.87,266.01 255.60,265.35 256.33,264.69 257.06,264.03 257.79,263.38 258.52,262.73 259.25,262.08 259.97,261.43 260.70,260.78 261.43,260.14 262.16,259.49 262.89,258.85 263.62,258.21 264.35,257.57 265.08,256.94 265.81,256.31 266.54,255.68 267.27,255.05 268.00,254.43 268.73,253.81 269.46,253.19 270.19,252.58 270.92,251.97 271.65,251.37 272.38,250.77 273.11,250.17 273.84,249.57 274.57,248.98 275.30,248.39 276.03,247.81 276.76,247.23 277.49,246.65 278.22,246.08 278.95,245.52 279.68,244.95 280.41,244.40 281.14,243.85 281.87,243.30 282.59,242.76 283.32,242.23 284.05,241.71 284.78,241.19 285.51,240.68 286.24,240.17 286.97,239.67 287.70,239.18 288.43,238.69 289.16,238.21 289.89,237.73 290.62,237.27 291.35,236.80 292.08,236.35 292.81,235.90 293.54,235.46 294.27,235.03 295.00,234.60 295.73,234.18 296.46,233.77 297.19,233.36 297.92,232.97 298.65,232.58 299.38,232.20 300.11,231.83 300.84,231.46 301.57,231.11 302.30,230.76 303.03,230.42 303.76,230.08 304.49,229.75 305.22,229.44 305.94,229.12 306.67,228.82 307.40,228.52 308.13,228.23 308.86,227.94 309.59,227.67 310.32,227.40 311.05,227.13 311.78,226.87 312.51,226.61 313.24,226.36 313.97,226.10 314.70,225.86 315.43,225.62 316.16,225.38 316.89,225.16 317.62,224.95 318.35,224.74 319.08,224.55 319.81,224.37 320.54,224.21 321.27,224.06 322.00,223.93 322.73,223.81 323.46,223.71 324.19,223.62 324.92,223.56 325.65,223.51 326.38,223.48 327.11,223.45 327.84,223.43 328.56,223.42 329.29,223.43 330.02,223.44 330.75,223.47 331.48,223.51 332.21,223.55 332.94,223.62 333.67,223.69 334.40,223.77 335.13,223.87 335.86,223.98 336.59,224.10 337.32,224.24 338.05,224.39 338.78,224.55 339.51,224.72 340.24,224.91 340.97,225.11 341.70,225.32 342.43,225.53 343.16,225.75 343.89,225.97 344.62,226.20 345.35,226.44 346.08,226.69 346.81,226.94 347.54,227.21 348.27,227.48 349.00,227.76 349.73,228.06 350.46,228.36 351.18,228.68 351.91,229.01 352.64,229.35 353.37,229.70 354.10,230.07 354.83,230.44 355.56,230.83 356.29,231.24 357.02,231.65 357.75,232.08 358.48,232.52 359.21,232.97 359.94,233.43 360.67,233.90 361.40,234.38 362.13,234.87 362.86,235.37 363.59,235.88 364.32,236.39 365.05,236.92 365.78,237.44 366.51,237.98 367.24,238.52 367.97,239.07 368.70,239.62 369.43,240.17 370.16,240.73 370.89,241.29 371.62,241.86 372.35,242.43 373.08,243.01 373.81,243.58 374.53,244.16 375.26,244.74 375.99,245.33 376.72,245.92 377.45,246.50 378.18,247.09 378.91,247.69 379.64,248.28 380.37,248.88 381.10,249.47 381.83,250.07 382.56,250.67 383.29,251.27 384.02,251.87 384.75,252.47 385.48,253.08 386.21,253.68 386.94,254.28 387.67,254.89 388.40,255.50 389.13,256.10 389.86,256.71 390.59,257.32 391.32,257.93 392.05,258.54 392.78,259.16 393.51,259.77 394.24,260.38 394.97,261.00 395.70,261.61 396.43,262.22 397.15,262.84 397.88,263.45 398.61,264.06 399.34,264.68 400.07,265.29 400.80,265.90 401.53,266.51 402.26,267.12 402.99,267.73 403.72,268.34 404.45,268.95 405.18,269.56 405.91,270.17 406.64,270.78 407.37,271.39 408.10,272.00" fill="none" stroke="#ff0000" stroke-width="1.2" stroke-dasharray="2.3 0.45"/>
<polyline points="248.30,272.00 249.03,271.49 249.76,270.99 250.49,270.48 251.22,269.98 251.95,269.48 252.68,268.97 253.41,268.47 254.14,267.97 254.87,267.47 255.60,266.97 256.33,266.47 257.06,265.98 257.79,265.48 258.52,264.99 259.25,264.50 259.97,264.01 260.70,263.52 261.43,263.03 262.16,262.55 262.89,262.07 263.62,261.58 264.35,261.10 265.08,260.62 265.81,260.15 266.54,259.67 267.27,259.20 268.00,258.73 268.73,258.27 269.46,257.80 270.19,257.34 270.92,256.88 271.65,256.42 272.38,255.97 273.11,255.52 273.84,255.07 274.57,254.63 275.30,254.19 276.03,253.75 276.76,253.32 277.49,252.89 278.22,252.46 278.95,252.04 279.68,251.62 280.41,251.20 281.14,250.78 281.87,250.37 282.59,249.97 283.32,249.57 284.05,249.17 284.78,248.78 285.51,248.39 286.24,248.00 286.97,247.63 287.70,247.25 288.43,246.88 289.16,246.52 289.89,246.17 290.62,245.81 291.35,245.47 292.08,245.13 292.81,244.80 293.54,244.47 294.27,244.14 295.00,243.82 295.73,243.51 296.46,243.20 297.19,242.90 297.92,242.60 298.65,242.31 299.38,242.03 300.11,241.75 300.84,241.47 301.57,241.21 302.30,240.95 303.03,240.69 303.76,240.44 304.49,240.20 305.22,239.97 305.94,239.74 306.67,239.51 307.40,239.30 308.13,239.09 308.86,238.89 309.59,238.69 310.32,238.50 311.05,238.32 311.78,238.15 312.51,237.98 313.24,237.81 313.97,237.66 314.70,237.51 315.43,237.36 316.16,237.23 316.89,237.10 317.62,236.97 318.35,236.85 319.08,236.74 319.81,236.63 320.54,236.53 321.27,236.44 322.00,236.35 322.73,236.27 323.46,236.19 324.19,236.12 324.92,236.05 325.65,235.98 326.38,235.92 327.11,235.87 327.84,235.82 328.56,235.78 329.29,235.75 330.02,235.73 330.75,235.71 331.48,235.70 332.21,235.70 332.94,235.71 333.67,235.73 334.40,235.75 335.13,235.79 335.86,235.84 336.59,235.90 337.32,235.97 338.05,236.04 338.78,236.13 339.51,236.23 340.24,236.35 340.97,236.47 341.70,236.60 342.43,236.74 343.16,236.88 343.89,237.03 344.62,237.19 345.35,237.36 346.08,237.54 346.81,237.72 347.54,237.91 348.27,238.10 349.00,238.31 349.73,238.52 350.46,238.74 351.18,238.97 351.91,239.20 352.64,239.44 353.37,239.69 354.10,239.95 354.83,240.21 355.56,240.48 356.29,240.76 357.02,241.04 357.75,241.34 358.48,241.63 359.21,241.94 359.94,242.25 360.67,242.57 361.40,242.90 362.13,243.23 362.86,243.57 363.59,243.91 364.32,244.26 365.05,244.62 365.78,244.98 366.51,245.35 367.24,245.71 367.97,246.09 368.70,246.46 369.43,246.85 370.16,247.23 370.89,247.62 371.62,248.02 372.35,248.42 373.08,248.83 373.81,249.23 374.53,249.65 375.26,250.07 375.99,250.49 376.72,250.92 377.45,251.35 378.18,251.78 378.91,252.22 379.64,252.67 380.37,253.11 381.10,253.56 381.83,254.02 382.56,254.48 383.29,254.94 384.02,255.41 384.75,255.88 385.48,256.35 386.21,256.82 386.94,257.30 387.67,257.78 388.40,258.27 389.13,258.76 389.86,259.24 390.59,259.74 391.32,260.23 392.05,260.73 392.78,261.23 393.51,261.73 394.24,262.23 394.97,262.73 395.70,263.24 396.43,263.75 397.15,264.25 397.88,264.77 398.61,265.28 399.34,265.79 400.07,266.30 400.80,266.82 401.53,267.33 402.26,267.85 402.99,268.37 403.72,268.89 404.45,269.40 405.18,269.92 405.91,270.44 406.64,270.96 407.37,271.48 408.10,272.00" fill="none" stroke="#ff0000" stroke-width="1.2" stroke-dasharray="2.3 0.45"/>
<path d="M247.85,154.0V273.0" stroke="#5c5c5c" stroke-width="1" fill="none"/>
<path d="M408.5,154.0V273.0" stroke="#858585" stroke-width="1" fill="none"/>
<path d="M247.4,154.5H409.0" stroke="#7a7a7a" stroke-width="1" fill="none"/>
<path d="M247.4,272.5H409.0" stroke="#808080" stroke-width="1" fill="none"/>
<path d="M247.90,272.0v-2.2M247.90,154.5v2.7M247.9,272.00h2.7M408.5,272.00h-2.7M280.02,272.0v-2.2M280.02,154.5v2.7M247.9,248.50h2.7M408.5,248.50h-2.7M312.14,272.0v-2.2M312.14,154.5v2.7M247.9,225.00h2.7M408.5,225.00h-2.7M344.26,272.0v-2.2M344.26,154.5v2.7M247.9,201.50h2.7M408.5,201.50h-2.7M376.38,272.0v-2.2M376.38,154.5v2.7M247.9,178.00h2.7M408.5,178.00h-2.7M408.50,272.0v-2.2M408.50,154.5v2.7M247.9,154.50h2.7M408.5,154.50h-2.7" stroke="#8c8c8c" stroke-width="0.8" fill="none"/>
<g font-size="12.7125" fill="#1a1a1a">
<text transform="translate(249.10,283.40) scale(0.8489,1)" text-anchor="middle">0</text>
<text transform="translate(245.30,276.35) scale(0.8800,1)" text-anchor="end">0</text>
<text transform="translate(281.22,283.40) scale(0.8489,1)" text-anchor="middle">0.2</text>
<text transform="translate(245.30,252.85) scale(0.8800,1)" text-anchor="end">0.1</text>
<text transform="translate(313.34,283.40) scale(0.8489,1)" text-anchor="middle">0.4</text>
<text transform="translate(245.30,229.35) scale(0.8800,1)" text-anchor="end">0.2</text>
<text transform="translate(345.46,283.40) scale(0.8489,1)" text-anchor="middle">0.6</text>
<text transform="translate(245.30,205.85) scale(0.8800,1)" text-anchor="end">0.3</text>
<text transform="translate(377.58,283.40) scale(0.8489,1)" text-anchor="middle">0.8</text>
<text transform="translate(245.30,182.35) scale(0.8800,1)" text-anchor="end">0.4</text>
<text transform="translate(409.70,283.40) scale(0.8489,1)" text-anchor="middle">1</text>
<text transform="translate(245.30,158.85) scale(0.8800,1)" text-anchor="end">0.5</text>
</g>
<text transform="translate(328.40,294.20) scale(0.8889,1)" text-anchor="middle" font-size="13.50" stroke="#111" stroke-width="0.2">&#966;/&#960;</text>
<g font-size="11.7" font-weight="bold">
<text transform="translate(46.6,16.8)">a</text><text transform="translate(251.5,16.4)">b</text><text transform="translate(46.8,164.7)">c</text><text transform="translate(251.1,164.7)">d</text></g>
<g font-size="12.7125">
<text transform="translate(68.1,17.5) scale(0.8889,1)">U = 1.5&#915;<tspan dy="3.8" font-size="9.7">S</tspan><tspan dy="-3.8"></tspan></text>
<text transform="translate(63.3,30.5) scale(0.8889,1)">&#915;<tspan dy="3.8" font-size="9.7">N</tspan><tspan dy="-3.8"> = 0.05&#915;</tspan><tspan dy="3.8" font-size="9.7">S</tspan><tspan dy="-3.8"></tspan></text>
<text transform="translate(70.6,43.2) scale(0.8889,1)">&#949; = -U/2</text>
<text transform="translate(67.9,53.5) scale(0.8889,1)">&#916;</text><text transform="translate(91.4,53.5) scale(0.8889,1)">&#8734;</text>
<path d="M77.8,50.7H88.1M85.2,48.6L88.3,50.7L85.2,52.8" fill="none" stroke="#222" stroke-width="0.75"/>
<text transform="translate(95.5,66.6) scale(0.8889,1)" text-anchor="end">Oguri et al.</text>
<text transform="translate(96.3,79.6) scale(0.8889,1)" text-anchor="end">&#948;(&#966;<tspan dy="-4.8" font-size="9.7">S</tspan><tspan dy="4.8">)</tspan></text>
<text transform="translate(96.3,91.6) scale(0.8889,1)" text-anchor="end">&#948;(&#966;<tspan dy="-4.8" font-size="9.7">A</tspan><tspan dy="4.8">)</tspan></text>
<text transform="translate(288.7,76.4) scale(0.8889,1)" text-anchor="end">p(&#966;<tspan dy="-4.8" font-size="9.7">S</tspan><tspan dy="4.8">)</tspan></text>
<text transform="translate(288.7,89) scale(0.8889,1)" text-anchor="end">p(&#966;<tspan dy="-4.8" font-size="9.7">A</tspan><tspan dy="4.8">)</tspan></text>
<text transform="translate(88.2,179.3) scale(0.8889,1)" text-anchor="end">g<tspan dy="3.8" font-size="9.7">NS</tspan><tspan dy="-3.8">(&#966;</tspan><tspan dy="-4.8" font-size="9.7">S</tspan><tspan dy="4.8">)</tspan></text>
<text transform="translate(88.2,191.8) scale(0.8889,1)" text-anchor="end">g<tspan dy="3.8" font-size="9.7">NS</tspan><tspan dy="-3.8">(&#966;</tspan><tspan dy="-4.8" font-size="9.7">A</tspan><tspan dy="4.8">)</tspan></text>
<text transform="translate(383.6,170.6) scale(0.8889,1)" text-anchor="end">J<tspan dy="-4.8" font-size="9.7">S</tspan><tspan dy="4.8">(&#966;</tspan><tspan dy="-4.8" font-size="9.7">S</tspan><tspan dy="4.8">)</tspan></text>
<text transform="translate(383.6,183.1) scale(0.8889,1)" text-anchor="end">J<tspan dy="-4.8" font-size="9.7">A</tspan><tspan dy="4.8">(&#966;</tspan><tspan dy="-4.8" font-size="9.7">A</tspan><tspan dy="4.8">)</tspan></text>
</g>
<circle cx="107.7" cy="63.5" r="2.4" fill="#000"/>
<line x1="103" y1="75.4" x2="112.8" y2="75.4" stroke="#0000ff" stroke-width="1.2"/>
<line x1="103" y1="87.6" x2="112.8" y2="87.6" stroke="#ff0000" stroke-width="1.2" stroke-dasharray="1.9 0.5"/>
<line x1="295.5" y1="71.5" x2="305.3" y2="71.5" stroke="#0000ff" stroke-width="1.2"/>
<line x1="295.5" y1="84" x2="305.3" y2="84" stroke="#ff0000" stroke-width="1.2" stroke-dasharray="1.9 0.5"/>
<line x1="94.6" y1="175.7" x2="104.4" y2="175.7" stroke="#0000ff" stroke-width="1.2"/>
<line x1="94.6" y1="188.2" x2="104.4" y2="188.2" stroke="#ff0000" stroke-width="1.2" stroke-dasharray="1.9 0.5"/>
<line x1="390.5" y1="166.4" x2="400.1" y2="166.4" stroke="#0000ff" stroke-width="1.2"/>
<line x1="390.5" y1="178.9" x2="400.1" y2="178.9" stroke="#ff0000" stroke-width="1.2" stroke-dasharray="1.9 0.5"/>
<g font-size="12.7125">
<text transform="translate(181.7,18.0) scale(0.8889,1)"><tspan font-style="italic">a</tspan>=1</text>
<text transform="translate(193.6,40.0) scale(0.8000,1)">4</text>
<text transform="translate(193.6,92.10000000000001) scale(0.8000,1)">7</text>
<text transform="translate(194.2,107.5) scale(0.8000,1)">10</text>
<text transform="translate(386.0,117.7) scale(0.8889,1)"><tspan font-style="italic">a</tspan>=1</text>
<text transform="translate(397.0,99.5) scale(0.8000,1)">4</text>
<text transform="translate(397.2,48.8) scale(0.8000,1)">7</text>
<text transform="translate(398.3,31.5) scale(0.8000,1)">10</text>
<text transform="translate(181.2,265.2) scale(0.8889,1)"><tspan font-style="italic">a</tspan>=1</text>
<text transform="translate(193.1,234.8) scale(0.8000,1)">4</text>
<text transform="translate(193.3,168.20000000000002) scale(0.8000,1)">7</text>
<text transform="translate(194.2,207.70000000000002) scale(0.8000,1)">10</text>
<text transform="translate(305.4,164.6) scale(0.8889,1)"><tspan font-style="italic">a</tspan>=1</text>
<text transform="translate(317.6,198.6) scale(0.8000,1)">4</text>
<text transform="translate(317.6,219.70000000000002) scale(0.8000,1)">7</text>
<text transform="translate(317.6,234.70000000000002) scale(0.8000,1)">10</text>
</g>
<text transform="translate(22.2,65.4) rotate(-90) scale(1.0700,1)" text-anchor="middle" font-size="11.30">2&#948;/&#960;</text>
<g transform="translate(224.2,93.3) rotate(-90)" font-size="10.9"><text transform="translate(0,0.6) scale(1.0,1)">p = 2</text><text transform="translate(28.3,0)">d</text><text transform="translate(39.5,0)">d</text><path d="M23.8,-7.4V4M55.3,-7.4V4M27.6,-7.4L24.9,-1.7L27.6,4M50.7,-7.4L53.4,-1.7L50.7,4M36.9,4V-6.5M35.2,-3.8L36.9,-6.5L38.6,-3.8M48.1,-6.5V4M46.4,1.3L48.1,4L49.8,1.3" fill="none" stroke="#222" stroke-width="0.7"/></g>
<text transform="translate(21.2,214.0) rotate(-90) scale(0.9950,1)" text-anchor="middle" font-size="11.00"><tspan>g</tspan><tspan dy="3.4" font-size="8.8">NS</tspan><tspan dy="-3.4">[4e</tspan><tspan dy="-4.0" font-size="8.8">2</tspan><tspan dy="4.0">/h]</tspan></text>
<text transform="translate(224.3,213.0) rotate(-90) scale(1.0300,1)" text-anchor="middle" font-size="11.00">J/J<tspan dy="3.2" font-size="8.8">c</tspan></text>
</svg>
</body></html>
